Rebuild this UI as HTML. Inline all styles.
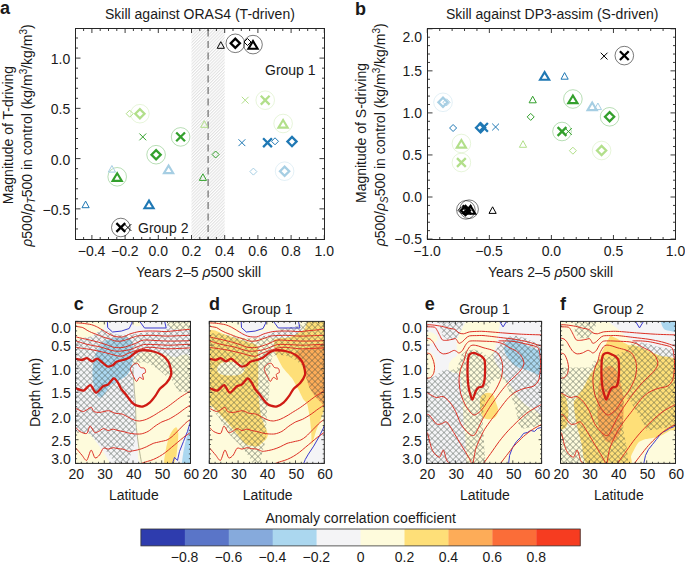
<!DOCTYPE html><html><head><meta charset="utf-8"><style>html,body{margin:0;padding:0;background:#fff;width:685px;height:562px;overflow:hidden}svg{display:block}text{font-family:"Liberation Sans",sans-serif;fill:#1a1a1a}</style></head><body>
<svg width="685" height="562" viewBox="0 0 685 562">
<defs><pattern id="hl" patternUnits="userSpaceOnUse" width="2.2" height="4" patternTransform="rotate(45)"><line x1="0.6" y1="0" x2="0.6" y2="4" stroke="#d6d6d6" stroke-width="0.75"/></pattern></defs>
<rect width="685" height="562" fill="#fff"/>
<rect x="191.5" y="28.5" width="33.2" height="211" fill="url(#hl)"/>
<line x1="208.1" y1="29.5" x2="208.1" y2="239.5" stroke="#6e6e6e" stroke-width="1.2" stroke-dasharray="7 4.5"/>
<path d="M91.9 239.5v-4.5M91.9 28.5v4.5M125.1 239.5v-4.5M125.1 28.5v4.5M158.3 239.5v-4.5M158.3 28.5v4.5M191.5 239.5v-4.5M191.5 28.5v4.5M224.7 239.5v-4.5M224.7 28.5v4.5M257.9 239.5v-4.5M257.9 28.5v4.5M291.1 239.5v-4.5M291.1 28.5v4.5M324.3 239.5v-4.5M324.3 28.5v4.5M83.6 239.5v-2.5M83.6 28.5v2.5M100.2 239.5v-2.5M100.2 28.5v2.5M108.5 239.5v-2.5M108.5 28.5v2.5M116.8 239.5v-2.5M116.8 28.5v2.5M133.4 239.5v-2.5M133.4 28.5v2.5M141.7 239.5v-2.5M141.7 28.5v2.5M150 239.5v-2.5M150 28.5v2.5M166.6 239.5v-2.5M166.6 28.5v2.5M174.9 239.5v-2.5M174.9 28.5v2.5M183.2 239.5v-2.5M183.2 28.5v2.5M199.8 239.5v-2.5M199.8 28.5v2.5M208.1 239.5v-2.5M208.1 28.5v2.5M216.4 239.5v-2.5M216.4 28.5v2.5M233 239.5v-2.5M233 28.5v2.5M241.3 239.5v-2.5M241.3 28.5v2.5M249.6 239.5v-2.5M249.6 28.5v2.5M266.2 239.5v-2.5M266.2 28.5v2.5M274.5 239.5v-2.5M274.5 28.5v2.5M282.8 239.5v-2.5M282.8 28.5v2.5M299.4 239.5v-2.5M299.4 28.5v2.5M307.7 239.5v-2.5M307.7 28.5v2.5M316 239.5v-2.5M316 28.5v2.5M75.5 208.85h5M324.5 208.85h-5M75.5 158.6h5M324.5 158.6h-5M75.5 108.35h5M324.5 108.35h-5M75.5 58.1h5M324.5 58.1h-5M75.5 228.95h2.5M324.5 228.95h-2.5M75.5 218.9h2.5M324.5 218.9h-2.5M75.5 198.8h2.5M324.5 198.8h-2.5M75.5 188.75h2.5M324.5 188.75h-2.5M75.5 178.7h2.5M324.5 178.7h-2.5M75.5 168.65h2.5M324.5 168.65h-2.5M75.5 148.55h2.5M324.5 148.55h-2.5M75.5 138.5h2.5M324.5 138.5h-2.5M75.5 128.45h2.5M324.5 128.45h-2.5M75.5 118.4h2.5M324.5 118.4h-2.5M75.5 98.3h2.5M324.5 98.3h-2.5M75.5 88.25h2.5M324.5 88.25h-2.5M75.5 78.2h2.5M324.5 78.2h-2.5M75.5 68.15h2.5M324.5 68.15h-2.5M75.5 48.05h2.5M324.5 48.05h-2.5M75.5 38h2.5M324.5 38h-2.5" stroke="#262626" stroke-width="0.9" fill="none"/>
<rect x="75.5" y="28.5" width="249" height="211" fill="none" stroke="#262626" stroke-width="1"/>
<text x="91.6" y="256" font-size="14" text-anchor="middle" font-weight="normal" >−0.4</text>
<text x="124.8" y="256" font-size="14" text-anchor="middle" font-weight="normal" >−0.2</text>
<text x="158.3" y="256" font-size="14" text-anchor="middle" font-weight="normal" >0.0</text>
<text x="191.5" y="256" font-size="14" text-anchor="middle" font-weight="normal" >0.2</text>
<text x="224.7" y="256" font-size="14" text-anchor="middle" font-weight="normal" >0.4</text>
<text x="257.9" y="256" font-size="14" text-anchor="middle" font-weight="normal" >0.6</text>
<text x="291.1" y="256" font-size="14" text-anchor="middle" font-weight="normal" >0.8</text>
<text x="324.3" y="256" font-size="14" text-anchor="middle" font-weight="normal" >1.0</text>
<text x="70.2" y="64.1" font-size="14" text-anchor="end" font-weight="normal" >1.0</text>
<text x="70.2" y="114.35" font-size="14" text-anchor="end" font-weight="normal" >0.5</text>
<text x="70.2" y="164.6" font-size="14" text-anchor="end" font-weight="normal" >0.0</text>
<text x="70.2" y="214.85" font-size="14" text-anchor="end" font-weight="normal" >−0.5</text>
<text x="0" y="14.3" font-size="18" text-anchor="start" font-weight="bold" >a</text>
<text x="105" y="18.5" font-size="14" text-anchor="start" font-weight="normal" >Skill against ORAS4 (T-driven)</text>
<text x="136" y="277" font-size="14" text-anchor="start" font-weight="normal" >Years 2–5 <tspan font-style="italic">ρ</tspan>500 skill</text>
<text x="265" y="75" font-size="14" text-anchor="start" font-weight="normal" >Group 1</text>
<text x="138" y="233" font-size="14" text-anchor="start" font-weight="normal" >Group 2</text>
<g transform="translate(13.3 135) rotate(-90)">
<text x="0" y="0" font-size="14" text-anchor="middle" font-weight="normal" >Magnitude of T-driving</text>
</g>
<g transform="translate(32 135.5) rotate(-90)">
<text x="0" y="0" font-size="14" text-anchor="middle" font-weight="normal" ><tspan font-style="italic">ρ</tspan>500/<tspan font-style="italic">ρ</tspan><tspan font-size="10" dy="3" font-style="italic">T</tspan><tspan dy="-3">500 in control (kg/m</tspan><tspan font-size="10" dy="-5">3</tspan><tspan dy="5">/kg/m</tspan><tspan font-size="10" dy="-5">3</tspan><tspan dy="5">)</tspan></text>
</g>
<path d="M217.2 48.3L220.8 41.7L224.4 48.3Z" fill="none" stroke="#000000" stroke-width="1.0" stroke-linejoin="miter" stroke-miterlimit="3"/>
<path d="M244 42L247.5 38.5L251 42L247.5 45.5Z" fill="none" stroke="#000000" stroke-width="1.0"/>
<circle cx="235.3" cy="43.3" r="9.3" fill="none" stroke="#000" stroke-opacity="0.75" stroke-width="0.7"/>
<path d="M230.7 43.3L235.3 38.7L239.9 43.3L235.3 47.9Z" fill="none" stroke="#000000" stroke-width="2.3"/>
<circle cx="253" cy="44.6" r="9.3" fill="none" stroke="#000" stroke-opacity="0.75" stroke-width="0.7"/>
<path d="M248.4 48.7L253 41.1L257.6 48.7Z" fill="none" stroke="#000000" stroke-width="2.1" stroke-linejoin="miter" stroke-miterlimit="3"/>
<path d="M241.8 96.8L248.6 103.6M241.8 103.6L248.6 96.8" fill="none" stroke="#b2df8a" stroke-width="1.0"/>
<circle cx="265.2" cy="100.2" r="9.3" fill="none" stroke="#b2df8a" stroke-opacity="0.45" stroke-width="0.7"/>
<path d="M260.8 95.8L269.6 104.6M260.8 104.6L269.6 95.8" fill="none" stroke="#b2df8a" stroke-width="2.3"/>
<circle cx="283.1" cy="123.5" r="9.3" fill="none" stroke="#b2df8a" stroke-opacity="0.45" stroke-width="0.7"/>
<path d="M278.5 127.6L283.1 120L287.7 127.6Z" fill="none" stroke="#b2df8a" stroke-width="2.1" stroke-linejoin="miter" stroke-miterlimit="3"/>
<path d="M200.7 127.3L204.3 120.7L207.9 127.3Z" fill="none" stroke="#b2df8a" stroke-width="1.0" stroke-linejoin="miter" stroke-miterlimit="3"/>
<path d="M126.2 113.7L129.7 110.2L133.2 113.7L129.7 117.2Z" fill="none" stroke="#b2df8a" stroke-width="1.0"/>
<circle cx="139.9" cy="113.7" r="9.3" fill="none" stroke="#b2df8a" stroke-opacity="0.45" stroke-width="0.7"/>
<path d="M135.3 113.7L139.9 109.1L144.5 113.7L139.9 118.3Z" fill="none" stroke="#b2df8a" stroke-width="2.3"/>
<path d="M139.4 133.5L146.2 140.3M139.4 140.3L146.2 133.5" fill="none" stroke="#33a02c" stroke-width="1.0"/>
<circle cx="180.6" cy="136.9" r="9.3" fill="none" stroke="#33a02c" stroke-opacity="0.5" stroke-width="0.7"/>
<path d="M176.2 132.5L185 141.3M176.2 141.3L185 132.5" fill="none" stroke="#33a02c" stroke-width="2.3"/>
<circle cx="156.1" cy="154.7" r="9.3" fill="none" stroke="#33a02c" stroke-opacity="0.5" stroke-width="0.7"/>
<path d="M151.5 154.7L156.1 150.1L160.7 154.7L156.1 159.3Z" fill="none" stroke="#33a02c" stroke-width="2.3"/>
<circle cx="117.2" cy="176.8" r="9.3" fill="none" stroke="#33a02c" stroke-opacity="0.5" stroke-width="0.7"/>
<path d="M112.6 180.9L117.2 173.3L121.8 180.9Z" fill="none" stroke="#33a02c" stroke-width="2.1" stroke-linejoin="miter" stroke-miterlimit="3"/>
<path d="M212.1 154.5L215.6 151L219.1 154.5L215.6 158Z" fill="none" stroke="#33a02c" stroke-width="1.0"/>
<path d="M199.3 180.4L202.9 173.8L206.5 180.4Z" fill="none" stroke="#33a02c" stroke-width="1.0" stroke-linejoin="miter" stroke-miterlimit="3"/>
<path d="M108.3 172.1L111.9 165.5L115.5 172.1Z" fill="none" stroke="#a6cee3" stroke-width="1.0" stroke-linejoin="miter" stroke-miterlimit="3"/>
<path d="M164 173.1L168.6 165.5L173.2 173.1Z" fill="none" stroke="#a6cee3" stroke-width="2.1" stroke-linejoin="miter" stroke-miterlimit="3"/>
<path d="M249.9 171.6L253.4 168.1L256.9 171.6L253.4 175.1Z" fill="none" stroke="#a6cee3" stroke-width="1.0"/>
<circle cx="284.6" cy="171.2" r="9.3" fill="none" stroke="#a6cee3" stroke-opacity="0.45" stroke-width="0.7"/>
<path d="M280 171.2L284.6 166.6L289.2 171.2L284.6 175.8Z" fill="none" stroke="#a6cee3" stroke-width="2.3"/>
<path d="M82 207.7L85.6 201.1L89.2 207.7Z" fill="none" stroke="#1f78b4" stroke-width="1.0" stroke-linejoin="miter" stroke-miterlimit="3"/>
<path d="M144.4 208.2L149 200.6L153.6 208.2Z" fill="none" stroke="#1f78b4" stroke-width="2.1" stroke-linejoin="miter" stroke-miterlimit="3"/>
<path d="M238.5 139.3L245.3 146.1M238.5 146.1L245.3 139.3" fill="none" stroke="#1f78b4" stroke-width="1.0"/>
<path d="M263.1 138.3L271.9 147.1M263.1 147.1L271.9 138.3" fill="none" stroke="#1f78b4" stroke-width="2.3"/>
<path d="M271.5 141.3L275 137.8L278.5 141.3L275 144.8Z" fill="none" stroke="#1f78b4" stroke-width="1.0"/>
<path d="M287.4 141.6L292 137L296.6 141.6L292 146.2Z" fill="none" stroke="#1f78b4" stroke-width="2.3"/>
<path d="M124.5 224.1L131.3 230.9M124.5 230.9L131.3 224.1" fill="none" stroke="#000000" stroke-width="1.0"/>
<circle cx="120.8" cy="227.5" r="9.3" fill="none" stroke="#000" stroke-opacity="0.75" stroke-width="0.7"/>
<path d="M116.4 223.1L125.2 231.9M116.4 231.9L125.2 223.1" fill="none" stroke="#000000" stroke-width="2.3"/>
<path d="M427.3 239.5v-4.5M427.3 28.5v4.5M489.35 239.5v-4.5M489.35 28.5v4.5M551.4 239.5v-4.5M551.4 28.5v4.5M613.45 239.5v-4.5M613.45 28.5v4.5M675.5 239.5v-4.5M675.5 28.5v4.5M439.71 239.5v-2.5M439.71 28.5v2.5M452.12 239.5v-2.5M452.12 28.5v2.5M464.53 239.5v-2.5M464.53 28.5v2.5M476.94 239.5v-2.5M476.94 28.5v2.5M501.76 239.5v-2.5M501.76 28.5v2.5M514.17 239.5v-2.5M514.17 28.5v2.5M526.58 239.5v-2.5M526.58 28.5v2.5M538.99 239.5v-2.5M538.99 28.5v2.5M563.81 239.5v-2.5M563.81 28.5v2.5M576.22 239.5v-2.5M576.22 28.5v2.5M588.63 239.5v-2.5M588.63 28.5v2.5M601.04 239.5v-2.5M601.04 28.5v2.5M625.86 239.5v-2.5M625.86 28.5v2.5M638.27 239.5v-2.5M638.27 28.5v2.5M650.68 239.5v-2.5M650.68 28.5v2.5M663.09 239.5v-2.5M663.09 28.5v2.5M427.5 239.05h5M675.5 239.05h-5M427.5 197h5M675.5 197h-5M427.5 154.95h5M675.5 154.95h-5M427.5 112.9h5M675.5 112.9h-5M427.5 70.85h5M675.5 70.85h-5M427.5 28.8h5M675.5 28.8h-5M427.5 230.64h2.5M675.5 230.64h-2.5M427.5 222.23h2.5M675.5 222.23h-2.5M427.5 213.82h2.5M675.5 213.82h-2.5M427.5 205.41h2.5M675.5 205.41h-2.5M427.5 188.59h2.5M675.5 188.59h-2.5M427.5 180.18h2.5M675.5 180.18h-2.5M427.5 171.77h2.5M675.5 171.77h-2.5M427.5 163.36h2.5M675.5 163.36h-2.5M427.5 146.54h2.5M675.5 146.54h-2.5M427.5 138.13h2.5M675.5 138.13h-2.5M427.5 129.72h2.5M675.5 129.72h-2.5M427.5 121.31h2.5M675.5 121.31h-2.5M427.5 104.49h2.5M675.5 104.49h-2.5M427.5 96.08h2.5M675.5 96.08h-2.5M427.5 87.67h2.5M675.5 87.67h-2.5M427.5 79.26h2.5M675.5 79.26h-2.5M427.5 62.44h2.5M675.5 62.44h-2.5M427.5 54.03h2.5M675.5 54.03h-2.5M427.5 45.62h2.5M675.5 45.62h-2.5M427.5 37.21h2.5M675.5 37.21h-2.5" stroke="#262626" stroke-width="0.9" fill="none"/>
<rect x="427.5" y="28.5" width="248" height="211" fill="none" stroke="#262626" stroke-width="1"/>
<text x="427" y="256" font-size="14" text-anchor="middle" font-weight="normal" >−1.0</text>
<text x="489.05" y="256" font-size="14" text-anchor="middle" font-weight="normal" >−0.5</text>
<text x="551.4" y="256" font-size="14" text-anchor="middle" font-weight="normal" >0.0</text>
<text x="613.45" y="256" font-size="14" text-anchor="middle" font-weight="normal" >0.5</text>
<text x="675.5" y="256" font-size="14" text-anchor="middle" font-weight="normal" >1.0</text>
<text x="422" y="41.8" font-size="14" text-anchor="end" font-weight="normal" >2.0</text>
<text x="422" y="75.8" font-size="14" text-anchor="end" font-weight="normal" >1.5</text>
<text x="422" y="118" font-size="14" text-anchor="end" font-weight="normal" >1.0</text>
<text x="422" y="160.3" font-size="14" text-anchor="end" font-weight="normal" >0.5</text>
<text x="422" y="202.3" font-size="14" text-anchor="end" font-weight="normal" >0.0</text>
<text x="422" y="244.3" font-size="14" text-anchor="end" font-weight="normal" >−0.5</text>
<text x="355" y="14.5" font-size="18" text-anchor="start" font-weight="bold" >b</text>
<text x="446" y="18.9" font-size="14" text-anchor="start" font-weight="normal" >Skill against DP3-assim (S-driven)</text>
<text x="488" y="277" font-size="14" text-anchor="start" font-weight="normal" >Years 2–5 <tspan font-style="italic">ρ</tspan>500 skill</text>
<g transform="translate(366.3 133) rotate(-90)">
<text x="0" y="0" font-size="14" text-anchor="middle" font-weight="normal" >Magnitude of S-driving</text>
</g>
<g transform="translate(385 134.8) rotate(-90)">
<text x="0" y="0" font-size="14" text-anchor="middle" font-weight="normal" ><tspan font-style="italic">ρ</tspan>500/<tspan font-style="italic">ρ</tspan><tspan font-size="10" dy="3" font-style="italic">S</tspan><tspan dy="-3">500 in control (kg/m</tspan><tspan font-size="10" dy="-5">3</tspan><tspan dy="5">/kg/m</tspan><tspan font-size="10" dy="-5">3</tspan><tspan dy="5">)</tspan></text>
</g>
<path d="M600.7 52.7L607.5 59.5M600.7 59.5L607.5 52.7" fill="none" stroke="#000000" stroke-width="1.0"/>
<circle cx="624.3" cy="55.6" r="9.3" fill="none" stroke="#000" stroke-opacity="0.75" stroke-width="0.7"/>
<path d="M619.9 51.2L628.7 60M619.9 60L628.7 51.2" fill="none" stroke="#000000" stroke-width="2.3"/>
<path d="M540 79.7L544.6 72.1L549.2 79.7Z" fill="none" stroke="#1f78b4" stroke-width="2.1" stroke-linejoin="miter" stroke-miterlimit="3"/>
<path d="M561 79.2L564.6 72.6L568.2 79.2Z" fill="none" stroke="#1f78b4" stroke-width="1.0" stroke-linejoin="miter" stroke-miterlimit="3"/>
<path d="M529.1 102.8L532.7 96.2L536.3 102.8Z" fill="none" stroke="#33a02c" stroke-width="1.0" stroke-linejoin="miter" stroke-miterlimit="3"/>
<circle cx="572.9" cy="99" r="9.3" fill="none" stroke="#33a02c" stroke-opacity="0.5" stroke-width="0.7"/>
<path d="M568.3 103.1L572.9 95.5L577.5 103.1Z" fill="none" stroke="#33a02c" stroke-width="2.1" stroke-linejoin="miter" stroke-miterlimit="3"/>
<path d="M594.3 109.6L597.9 103L601.5 109.6Z" fill="none" stroke="#a6cee3" stroke-width="1.0" stroke-linejoin="miter" stroke-miterlimit="3"/>
<path d="M587.6 110.1L592.2 102.5L596.8 110.1Z" fill="none" stroke="#a6cee3" stroke-width="2.1" stroke-linejoin="miter" stroke-miterlimit="3"/>
<path d="M527.2 116.9L530.7 113.4L534.2 116.9L530.7 120.4Z" fill="none" stroke="#33a02c" stroke-width="1.0"/>
<circle cx="609.6" cy="116.8" r="9.3" fill="none" stroke="#33a02c" stroke-opacity="0.5" stroke-width="0.7"/>
<path d="M605 116.8L609.6 112.2L614.2 116.8L609.6 121.4Z" fill="none" stroke="#33a02c" stroke-width="2.3"/>
<path d="M565 128.1L571.8 134.9M565 134.9L571.8 128.1" fill="none" stroke="#33a02c" stroke-width="1.0"/>
<circle cx="562" cy="131.5" r="9.3" fill="none" stroke="#33a02c" stroke-opacity="0.5" stroke-width="0.7"/>
<path d="M557.6 127.1L566.4 135.9M557.6 135.9L566.4 127.1" fill="none" stroke="#33a02c" stroke-width="2.3"/>
<path d="M519.4 147.3L523 140.7L526.6 147.3Z" fill="none" stroke="#b2df8a" stroke-width="1.0" stroke-linejoin="miter" stroke-miterlimit="3"/>
<path d="M569.4 150.7L572.9 147.2L576.4 150.7L572.9 154.2Z" fill="none" stroke="#b2df8a" stroke-width="1.0"/>
<circle cx="601.6" cy="150.5" r="9.3" fill="none" stroke="#b2df8a" stroke-opacity="0.45" stroke-width="0.7"/>
<path d="M597 150.5L601.6 145.9L606.2 150.5L601.6 155.1Z" fill="none" stroke="#b2df8a" stroke-width="2.3"/>
<path d="M443 102.3L446.5 98.8L450 102.3L446.5 105.8Z" fill="none" stroke="#a6cee3" stroke-width="1.0"/>
<circle cx="443" cy="102.3" r="9.3" fill="none" stroke="#a6cee3" stroke-opacity="0.45" stroke-width="0.7"/>
<path d="M438.4 102.3L443 97.7L447.6 102.3L443 106.9Z" fill="none" stroke="#a6cee3" stroke-width="2.3"/>
<path d="M449.6 128L453.1 124.5L456.6 128L453.1 131.5Z" fill="none" stroke="#1f78b4" stroke-width="1.0"/>
<path d="M492.2 123.6L499 130.4M492.2 130.4L499 123.6" fill="none" stroke="#1f78b4" stroke-width="1.0"/>
<path d="M476 127.8L480.6 123.2L485.2 127.8L480.6 132.4Z" fill="none" stroke="#1f78b4" stroke-width="2.3"/>
<path d="M479.1 123L487.9 131.8M479.1 131.8L487.9 123" fill="none" stroke="#1f78b4" stroke-width="2.3"/>
<circle cx="461.4" cy="143.5" r="9.3" fill="none" stroke="#b2df8a" stroke-opacity="0.45" stroke-width="0.7"/>
<path d="M456.8 147.6L461.4 140L466 147.6Z" fill="none" stroke="#b2df8a" stroke-width="2.1" stroke-linejoin="miter" stroke-miterlimit="3"/>
<circle cx="461.4" cy="162.5" r="9.3" fill="none" stroke="#b2df8a" stroke-opacity="0.45" stroke-width="0.7"/>
<path d="M457 158.1L465.8 166.9M457 166.9L465.8 158.1" fill="none" stroke="#b2df8a" stroke-width="2.3"/>
<path d="M489 213.4L492.6 206.8L496.2 213.4Z" fill="none" stroke="#000000" stroke-width="1.0" stroke-linejoin="miter" stroke-miterlimit="3"/>
<circle cx="465.9" cy="209.9" r="9.3" fill="none" stroke="#000" stroke-opacity="0.75" stroke-width="0.7"/>
<circle cx="469.1" cy="209.2" r="9.3" fill="none" stroke="#000" stroke-opacity="0.75" stroke-width="0.7"/>
<path d="M458 210.3L461.5 206.8L465 210.3L461.5 213.8Z" fill="none" stroke="#000000" stroke-width="1.0"/>
<path d="M460.9 210.5L465.5 205.9L470.1 210.5L465.5 215.1Z" fill="none" stroke="#000000" stroke-width="2.3"/>
<path d="M462.6 205.4L471.4 214.2M462.6 214.2L471.4 205.4" fill="none" stroke="#000000" stroke-width="2.3"/>
<path d="M466 213.7L470.6 206.1L475.2 213.7Z" fill="none" stroke="#000000" stroke-width="2.1" stroke-linejoin="miter" stroke-miterlimit="3"/>
<g transform="translate(75.5 321.4)">
<clipPath id="cpc"><rect width="115" height="142"/></clipPath>
<g clip-path="url(#cpc)">
<rect width="115" height="142" fill="#f4f4f6"/>
<path d="M-1 -1C1.2 -2.4 29.7 -1.2 31.8 -1C33.9 -0.8 31.2 1.3 30.9 1.9C30.6 2.5 28 7.4 27.4 8C26.8 8.6 22.9 10.1 22.1 10.6C21.3 11.1 17 14.6 16 15C15 15.4 8.4 16.4 7.3 16.7C6.2 17 -0.4 20.6 -1 19.4C-1.6 18.2 -3.2 0.4 -1 -1Z" fill="#fefbdc"/>
<path d="M56.7 -1L63.5 -1L66 4L61 5L57 3Z" fill="#fefbdc"/>
<path d="M90 -1C91.3 -1.5 114.3 -1.6 116 -1C117.7 -0.4 116.8 7.4 116 8C115.2 8.6 105.3 8.1 104 8C102.7 7.9 96.9 7.6 96 7C95.1 6.4 88.7 -0.5 90 -1Z" fill="#fefbdc"/>
<path d="M57 45C57.2 42.2 59.1 36.4 60 35C60.9 33.6 64.2 31.5 66 31C67.8 30.5 75.6 29.8 78 30C80.4 30.2 87.8 32.4 90 33C92.2 33.6 97.5 35.5 100 36C102.5 36.5 113.4 27.3 115 38C116.6 48.7 120.9 132.5 116 143C111.1 153.5 71.3 145.3 66 143C60.6 140.7 63 124.1 62.5 120C62 115.9 60.8 105.6 60.5 102C60.2 98.4 60.2 87.9 60 84C59.8 80.1 58.7 66.9 58.4 63C58.1 59.1 56.8 47.8 57 45Z" fill="#fefbdc"/>
<path d="M55 47C55.3 45.7 56.8 43.8 58 43C59.2 42.2 60.8 41.5 62 42C63.2 42.5 63.8 45.2 65 46C66.2 46.8 68.2 46.2 69 47C69.8 47.8 70.3 50 70 51C69.7 52 67.3 51.8 67 53C66.7 54.2 68.5 57.5 68 58C67.5 58.5 65.2 55.7 64 56C62.8 56.3 62 60.2 61 60C60 59.8 58.8 56.5 58 55C57.2 53.5 56.5 52.3 56 51C55.5 49.7 54.7 48.3 55 47Z" fill="#f4f4f6"/>
<path d="M-1 111C-0.1 108.9 11.9 111.7 13.2 112.1C14.5 112.5 17.4 116.2 18.1 117C18.8 117.8 23.2 123.7 24 124.8C24.8 125.9 29.2 132.4 29.8 133.6C30.4 134.8 35.8 142.4 33.7 143C31.6 143.6 1.3 145.1 -1 143C-3.3 140.9 -1.9 113.1 -1 111Z" fill="#fefbdc"/>
<path d="M21 30C22.5 27.1 25.2 22.8 28 20.5C30.8 18.2 34.8 17.3 37.9 16.5C41 15.7 43.9 15.7 46.7 15.8C49.5 15.9 52.7 15.6 54.5 17C56.3 18.4 56.9 20.8 57.4 24C57.9 27.2 57.6 32.5 57.4 36C57.2 39.5 56.9 42.2 56 45C55.1 47.8 53.7 50.9 52 53C50.3 55.1 48 56.2 46 57.5C44 58.8 41.9 59.9 40 61C38.1 62.1 36.6 62.3 34.6 64.4C32.6 66.5 30 71.6 28.2 73.5C26.4 75.4 25.4 76.6 24 76C22.6 75.4 21.1 72.7 20 70C18.9 67.3 18 63.7 17.5 60C17 56.3 16.8 51.7 17 48C17.2 44.3 18.3 41 19 38C19.7 35 19.5 32.9 21 30Z" fill="#abd7ef"/>
<path d="M89 143C87.8 141.3 89.5 133.5 90 130C90.5 126.5 92.1 119.8 93 117C93.9 114.2 95.9 110.5 97 109C98.1 107.5 100.2 105.6 101 106C101.8 106.4 102.7 109.5 102.8 112C102.9 114.5 102.5 120.9 102 125C101.5 129.1 100.7 140.6 99 143C97.3 145.4 90.2 144.7 89 143Z" fill="#fedf78"/>
<path d="M98 143L104 128L110 112L116 98L116 143Z" fill="#f4f4f6"/>
<path d="M106.5 143C106 142.1 107.7 131.8 108 130C108.3 128.2 110.5 117.8 111 116C111.5 114.2 115.7 101.2 116 103C116.3 104.8 116.6 140.3 116 143C115.4 145.7 107 143.9 106.5 143Z" fill="#abd7ef"/>
<clipPath id="hc1"><path d="M0 18.5L7.3 16.7L16 15L22.1 10.6L27.4 8L31 9L36 12L45 13.5L55 13L70 11L85 10L91 8L92.5 0L115 0L115 71L103 70L96 58L90 54L83 48L75 43L68 40L62 42L58 48L57 55L58 70L59 85L60 100L60 115L58 125L55 134L53 142L40 142L28 126L18.1 117L13.2 112.1L0 111Z"/></clipPath><path d="M-2 -121.4L118 -1.4M-2 -115.4L118 4.6M-2 -109.4L118 10.6M-2 -103.4L118 16.6M-2 -97.4L118 22.6M-2 -91.4L118 28.6M-2 -85.4L118 34.6M-2 -79.4L118 40.6M-2 -73.4L118 46.6M-2 -67.4L118 52.6M-2 -61.4L118 58.6M-2 -55.4L118 64.6M-2 -49.4L118 70.6M-2 -43.4L118 76.6M-2 -37.4L118 82.6M-2 -31.4L118 88.6M-2 -25.4L118 94.6M-2 -19.4L118 100.6M-2 -13.4L118 106.6M-2 -7.4L118 112.6M-2 -1.4L118 118.6M-2 4.6L118 124.6M-2 10.6L118 130.6M-2 16.6L118 136.6M-2 22.6L118 142.6M-2 28.6L118 148.6M-2 34.6L118 154.6M-2 40.6L118 160.6M-2 46.6L118 166.6M-2 52.6L118 172.6M-2 58.6L118 178.6M-2 64.6L118 184.6M-2 70.6L118 190.6M-2 76.6L118 196.6M-2 82.6L118 202.6M-2 88.6L118 208.6M-2 94.6L118 214.6M-2 100.6L118 220.6M-2 106.6L118 226.6M-2 112.6L118 232.6M-2 118.6L118 238.6M-2 124.6L118 244.6M-2 130.6L118 250.6M-2 136.6L118 256.6M-2 142.6L118 262.6M-2 7.6L118 -112.4M-2 13.6L118 -106.4M-2 19.6L118 -100.4M-2 25.6L118 -94.4M-2 31.6L118 -88.4M-2 37.6L118 -82.4M-2 43.6L118 -76.4M-2 49.6L118 -70.4M-2 55.6L118 -64.4M-2 61.6L118 -58.4M-2 67.6L118 -52.4M-2 73.6L118 -46.4M-2 79.6L118 -40.4M-2 85.6L118 -34.4M-2 91.6L118 -28.4M-2 97.6L118 -22.4M-2 103.6L118 -16.4M-2 109.6L118 -10.4M-2 115.6L118 -4.4M-2 121.6L118 1.6M-2 127.6L118 7.6M-2 133.6L118 13.6M-2 139.6L118 19.6M-2 145.6L118 25.6M-2 151.6L118 31.6M-2 157.6L118 37.6M-2 163.6L118 43.6M-2 169.6L118 49.6M-2 175.6L118 55.6M-2 181.6L118 61.6M-2 187.6L118 67.6M-2 193.6L118 73.6M-2 199.6L118 79.6M-2 205.6L118 85.6M-2 211.6L118 91.6M-2 217.6L118 97.6M-2 223.6L118 103.6M-2 229.6L118 109.6M-2 235.6L118 115.6M-2 241.6L118 121.6M-2 247.6L118 127.6M-2 253.6L118 133.6M-2 259.6L118 139.6M-2 265.6L118 145.6M-2 271.6L118 151.6" stroke="#36423a" stroke-width="0.5" fill="none" clip-path="url(#hc1)"/>
<path d="M57.4 47.7C57.6 50.3 58 57.2 58.4 63.2C58.8 69.2 59.6 77.3 60 83.8C60.4 90.2 60.1 95.9 60.5 101.9C60.9 107.9 61.6 113.3 62.5 120C63.4 126.7 65.5 138.3 66.1 142" fill="none" stroke="#8a8a6a" stroke-width="0.6" stroke-linejoin="round" />
<path d="M31.8 -1L32.2 6.2L37 10.6L45.8 9.7L53.7 7.1L56.3 1.9L56.7 -1" fill="none" stroke="#3b3bcc" stroke-width="1.0" stroke-linejoin="round" />
<path d="M63.5 -1L69 6.6L90.7 6.6L88.9 -1" fill="none" stroke="#3b3bcc" stroke-width="1.0" stroke-linejoin="round" />
<path d="M97 142L99 136L102 139L104 130L108 120L112 110L115 100" fill="none" stroke="#3b3bcc" stroke-width="1.0" stroke-linejoin="round" />
<path d="M0 1.4C1 1.5 5.2 1.7 7.3 1.9C9.4 2.2 14 2.8 16 3.3C18 3.8 20.6 5 22.1 5.8C23.6 6.5 25.9 8 27.4 8.9C28.9 9.8 31.9 11.7 33.5 12.6C35.1 13.4 37.8 14.8 39.7 15.1C41.6 15.5 45.5 15.8 47.5 15.5C49.5 15.1 52.4 13.2 54.5 12.5C56.6 11.8 61.1 10.6 63.5 10.2C65.9 9.8 70.2 9.7 72.6 9.6C75 9.6 79.2 9.7 81.6 9.7C84 9.8 88.3 10.3 90.7 10.2C93.1 10.1 97.3 9.5 99.7 9.3C102.1 9.1 106.8 8.6 108.8 8.4C110.8 8.2 114.2 8 115 7.9" fill="none" stroke="#dc2f24" stroke-width="1.0" stroke-linejoin="round" />
<path d="M0 4.9C1 5.1 5.8 5.7 7.3 6.2C8.8 6.7 10.4 8.3 11.6 8.9C12.8 9.6 14.7 10.5 16 11.1C17.3 11.7 19.8 12.5 21.3 13.1C22.8 13.7 25.8 14.9 27.4 15.5C29 16.1 31.8 16.8 33.5 17.4C35.2 17.9 38.6 19.4 40.5 19.7C42.4 20 45.1 19.9 47.5 19.4C49.9 18.8 56.4 16.3 58.5 15.6C60.6 14.9 61.1 14.6 63.5 14.4C65.9 14.2 72.9 13.9 76.5 13.9C80.1 14 87 14.7 90.7 14.7C94.4 14.8 100.8 14.4 104 14.3C107.2 14.2 113.5 13.9 115 13.8" fill="none" stroke="#dc2f24" stroke-width="1.0" stroke-linejoin="round" />
<path d="M0 15.4C0.7 15.6 4 16.4 5.5 16.7C7 17.1 10 17.7 11.6 18C13.2 18.4 16 19.1 17.8 19.5C19.6 20 22.9 20.7 24.8 21.3C26.7 21.8 29.9 23 31.8 23.6C33.7 24.2 36.7 25.7 38.8 26C40.9 26.3 44.9 26.4 47.5 26C50.1 25.5 55.8 23.6 58.5 22.6C61.2 21.6 64.8 19.2 67.9 18.7C71 18.3 78 19.1 81.6 19.2C85.2 19.4 90.5 19.7 95 19.7C99.5 19.7 112.3 19.4 115 19.3" fill="none" stroke="#dc2f24" stroke-width="1.0" stroke-linejoin="round" />
<path d="M0 19.4C1.5 19.9 8.3 22.1 11.6 22.9C14.9 23.8 21.2 24.7 25 25.6C28.8 26.5 36.1 29.5 40 29.8C43.9 30.2 50.8 29.1 54.5 28.2C58.2 27.3 64.4 23.9 68 23.2C71.6 22.6 78 23.3 81.6 23.3C85.2 23.4 90.5 23.9 95 23.8C99.5 23.7 112.3 22.9 115 22.8" fill="none" stroke="#dc2f24" stroke-width="1.0" stroke-linejoin="round" />
<path d="M0 26C2 26.3 11 27.4 15 28.1C19 28.8 26 30.4 30 31.3C34 32.2 41.7 34.9 45 34.9C48.3 34.9 50.8 32.4 54.5 31.2C58.2 30 67.8 26.4 72.6 25.9C77.4 25.4 85 27.3 90.7 27.4C96.4 27.5 111.8 26.6 115 26.5" fill="none" stroke="#dc2f24" stroke-width="1.0" stroke-linejoin="round" />
<path d="M0 86.8C0.9 87.2 5.6 89.9 7.1 90.1C8.6 90.3 10.3 89 11.4 88.4C12.5 87.8 14.8 85.6 15.7 85.8C16.6 86 17.2 89.4 18.3 90.1C19.4 90.8 22.3 91.1 24.3 91C26.3 90.9 30.9 89.2 33 89.3C35.1 89.4 38 91.4 39.8 91.9C41.6 92.4 44.9 92.1 46.7 92.7C48.5 93.3 52 95.4 53.6 96.2C55.2 97 57.4 98.2 58.8 98.7C60.2 99.2 62.4 99.7 64 99.6C65.6 99.5 69.1 98.6 70.9 97.9C72.7 97.2 75.9 95.4 77.7 94.4C79.5 93.4 82.8 91.2 84.6 90.1C86.4 89 89.7 87.1 91.5 85.8C93.3 84.5 96.6 82.1 98.4 80.7C100.2 79.3 103.5 76.8 105.3 75.5C107.1 74.2 110.9 72.1 112.2 71.2C113.5 70.3 114.6 69.3 115 69" fill="none" stroke="#dc2f24" stroke-width="1.0" stroke-linejoin="round" />
<path d="M0.5 106.2C1 106.7 3 109.3 4.4 110.1C5.8 110.9 9.8 112.8 11.2 112.1C12.6 111.4 13.5 104.8 14.6 104.7C15.7 104.6 18 110.4 19.1 111.1C20.2 111.8 21.8 110.6 23 110.1C24.2 109.6 26.6 107.3 27.9 107.2C29.2 107.1 31.4 109 32.7 109.1C34 109.2 36.3 107.7 37.6 107.7C38.9 107.7 41.2 108.8 42.5 109.1C43.8 109.4 46 109.8 47.4 110.1C48.8 110.4 51.8 111.3 53.3 111.6C54.8 111.9 57.1 112.4 58.8 112.5C60.5 112.6 63.9 112.8 65.7 112.5C67.5 112.2 70.8 111 72.6 110C74.4 109 77.7 106.1 79.5 104.8C81.3 103.5 84.6 101.4 86.4 100.5C88.2 99.6 91.1 98.9 93.2 97.9C95.3 96.9 99.8 94.1 101.9 92.7C104 91.3 107.1 88.8 108.8 87.6C110.5 86.4 114.2 84 115 83.5" fill="none" stroke="#dc2f24" stroke-width="1.0" stroke-linejoin="round" />
<path d="M0.5 126.8C1.3 127.7 4.9 132 6.3 133.6C7.7 135.2 10 139.7 11.2 139C12.4 138.3 14.5 129 15.6 128.7C16.7 128.4 18.4 135.8 19.5 136.5C20.6 137.2 22.9 134.9 24 133.6C25.1 132.3 26.7 127.6 27.9 126.8C29.1 126 31.4 127.8 32.7 127.7C34 127.6 36.3 126.4 37.6 126.3C38.9 126.2 41.2 127.1 42.5 127.3C43.8 127.5 46.1 127.4 47.4 127.7C48.7 128 51.2 129.4 52.3 129.7C53.4 130 53.7 130 55.3 129.8C56.9 129.6 61.9 128.6 64 128C66.1 127.4 69.1 126.2 70.9 125.4C72.7 124.6 75.9 122.7 77.7 122C79.5 121.3 82.8 120.8 84.6 120.3C86.4 119.8 89.9 119.3 91.5 118.6C93.1 117.9 95.1 116.5 96.7 115.1C98.3 113.7 101.8 110 103.6 108.2C105.4 106.4 109 102.7 110.5 101.3C112 99.9 114.4 98.4 115 98" fill="none" stroke="#dc2f24" stroke-width="1.0" stroke-linejoin="round" />
<path d="M66 142C66.8 141.7 70.4 140.5 72 140C73.6 139.5 76.4 138.7 78 138C79.6 137.3 82.4 135.9 84 135C85.6 134.1 88.4 132.2 90 131C91.6 129.8 94.4 127.3 96 126C97.6 124.7 100.4 122.3 102 121C103.6 119.7 106.3 117.3 108 116C109.7 114.7 114.1 111.7 115 111" fill="none" stroke="#dc2f24" stroke-width="1.0" stroke-linejoin="round" />
<path d="M55 47C55.3 45.7 56.8 43.8 58 43C59.2 42.2 60.8 41.5 62 42C63.2 42.5 63.8 45.2 65 46C66.2 46.8 68.2 46.2 69 47C69.8 47.8 70.3 50 70 51C69.7 52 67.3 51.8 67 53C66.7 54.2 68.5 57.5 68 58C67.5 58.5 65.2 55.7 64 56C62.8 56.3 62 60.2 61 60C60 59.8 58.8 56.5 58 55C57.2 53.5 56.5 52.3 56 51C55.5 49.7 54.7 48.3 55 47Z" fill="none" stroke="#dc2f24" stroke-width="1.0" stroke-linejoin="round" />
<path d="M0 37.3C0.8 37.5 4.7 38.7 6.2 38.6C7.7 38.5 10 36.6 11.4 36.8C12.8 37 15.2 39.8 16.6 39.9C18 40 20.3 37.1 21.7 37.3C23.1 37.5 25.5 40.2 26.9 41.2C28.3 42.2 30.7 44.8 32.1 45.1C33.5 45.4 36 44.4 37.2 43.8C38.4 43.2 39.7 41.1 41.1 40.4C42.5 39.7 45.9 39.2 47.6 38.6C49.3 38 52.3 37 54 36C55.7 35 59 31.8 60.5 30.9C62 30 63.5 29.2 65.6 29C67.7 28.8 73.2 29 76 29.6C78.8 30.2 84.1 32.1 86.3 33.5C88.5 34.9 91.5 38 92.7 39.9C93.9 41.8 94.9 45.9 95.3 47.7C95.7 49.5 96.2 51.8 95.6 53.7C95 55.6 92.4 59.9 90.9 61.7C89.4 63.5 85.6 65.9 84.2 67.5C82.8 69.1 81.5 72.2 80.2 74C78.9 75.8 76.2 79.5 74.5 81C72.8 82.5 69.5 84.6 67.8 85C66.1 85.4 63 84.8 61.5 84.3C60 83.8 58.1 82.7 56.6 81.2C55.1 79.7 52 75.1 50.6 73.3C49.2 71.5 46.9 69.4 45.8 67.8C44.7 66.2 43.3 62.5 42.3 61C41.3 59.5 39.5 56.6 38.2 56.9C36.9 57.2 34.2 61.9 32.7 63C31.2 64.1 28.9 64 27.3 65.1C25.7 66.2 22.1 71.5 20.4 71.3C18.7 71.1 16.5 64 14.9 63.7C13.3 63.4 9.9 68.7 8.1 69.2C6.3 69.7 2.3 67.4 1.2 67.1C0.1 66.8 0.2 67 0 67" fill="none" stroke="#cf1b14" stroke-width="2.3" stroke-linejoin="round" />
</g>
<path d="M0 0v3.0M0 142v-3.0M5.8 0v1.6M5.8 142v-1.6M11.5 0v1.6M11.5 142v-1.6M17.2 0v1.6M17.2 142v-1.6M23 0v1.6M23 142v-1.6M28.8 0v3.0M28.8 142v-3.0M34.5 0v1.6M34.5 142v-1.6M40.2 0v1.6M40.2 142v-1.6M46 0v1.6M46 142v-1.6M51.8 0v1.6M51.8 142v-1.6M57.5 0v3.0M57.5 142v-3.0M63.2 0v1.6M63.2 142v-1.6M69 0v1.6M69 142v-1.6M74.8 0v1.6M74.8 142v-1.6M80.5 0v1.6M80.5 142v-1.6M86.2 0v3.0M86.2 142v-3.0M92 0v1.6M92 142v-1.6M97.8 0v1.6M97.8 142v-1.6M103.5 0v1.6M103.5 142v-1.6M109.2 0v1.6M109.2 142v-1.6M115 0v3.0M115 142v-3.0M0 0h3.0M115 0h-3.0M0 4.7h1.6M115 4.7h-1.6M0 9.5h1.6M115 9.5h-1.6M0 14.2h1.6M115 14.2h-1.6M0 18.9h1.6M115 18.9h-1.6M0 23.7h3.0M115 23.7h-3.0M0 28.4h1.6M115 28.4h-1.6M0 33.1h1.6M115 33.1h-1.6M0 37.9h1.6M115 37.9h-1.6M0 42.6h1.6M115 42.6h-1.6M0 47.3h3.0M115 47.3h-3.0M0 52.1h1.6M115 52.1h-1.6M0 56.8h1.6M115 56.8h-1.6M0 61.5h1.6M115 61.5h-1.6M0 66.3h1.6M115 66.3h-1.6M0 71h3.0M115 71h-3.0M0 75.7h1.6M115 75.7h-1.6M0 80.5h1.6M115 80.5h-1.6M0 85.2h1.6M115 85.2h-1.6M0 89.9h1.6M115 89.9h-1.6M0 94.7h3.0M115 94.7h-3.0M0 99.4h1.6M115 99.4h-1.6M0 104.1h1.6M115 104.1h-1.6M0 108.9h1.6M115 108.9h-1.6M0 113.6h1.6M115 113.6h-1.6M0 118.3h3.0M115 118.3h-3.0M0 123.1h1.6M115 123.1h-1.6M0 127.8h1.6M115 127.8h-1.6M0 132.5h1.6M115 132.5h-1.6M0 137.3h1.6M115 137.3h-1.6M0 142h3.0M115 142h-3.0" stroke="#262626" stroke-width="0.8" fill="none"/>
<rect width="115" height="142" fill="none" stroke="#262626" stroke-width="1"/>
</g>
<g transform="translate(209.3 321.4)">
<clipPath id="cpd"><rect width="115" height="142"/></clipPath>
<g clip-path="url(#cpd)">
<rect width="115" height="142" fill="#fefbdc"/>
<path d="M31.8 -1L32.2 6.2L37 10.6L45.8 9.7L53.7 7.1L56.3 1.9L56.7 -1Z" fill="#f4f4f6"/>
<path d="M63.5 -1L69 6.6L90.7 6.6L88.9 -1Z" fill="#f4f4f6"/>
<path d="M30 8C31.3 7.6 42 10.9 45 11C48 11.1 57 9.3 60 9C63 8.7 71.8 8.2 75 8C78.2 7.8 90.3 6.4 92 7C93.7 7.6 93.7 13.1 92 14C90.3 14.9 78.2 15.8 75 16C71.8 16.2 63 15.9 60 16C57 16.1 47.8 17.1 45 17C42.2 16.9 33.5 15.9 32 15C30.5 14.1 28.7 8.4 30 8Z" fill="#f4f4f6"/>
<path d="M-1 11.5C0.6 4.5 11.9 12.3 15 13C18.1 13.7 27.5 17.2 30 18C32.5 18.8 38.2 20.4 40 21C41.8 21.6 47.1 22.5 48 24.4C48.9 26.3 48.9 36.4 49 40C49.1 43.6 49 56.4 49 60C49 63.6 49 72.5 49.3 76C49.6 79.5 51.1 91.4 52 95C52.9 98.6 57.9 110 58.4 112.2C58.9 114.4 57.8 116.1 57 117.3C56.2 118.5 51 123.2 50 124C49 124.8 48.1 125.2 46.7 125.1C45.3 124.9 38.3 123.7 36.4 122.5C34.5 121.3 29.8 115.2 28 113C26.2 110.8 20 103.3 18 101C16 98.7 9.6 91.7 8 90C6.4 88.3 2.5 84.5 1.6 83.8C0.7 83.1 -0.7 90.2 -1 83C-1.3 75.8 -2.6 18.5 -1 11.5Z" fill="#fedf78"/>
<path d="M8 46C8.7 44.3 10.7 41.9 13 41C15.3 40.1 19 40.2 22 40.4C25 40.6 28.8 40.9 31 42C33.2 43.1 35.2 45.2 35.4 47C35.6 48.8 33.9 51.3 32 52.5C30.1 53.7 27 53.9 24 54.1C21 54.3 16.5 54 14 53.5C11.5 53 10 52.2 9 51C8 49.8 7.3 47.7 8 46Z" fill="#fefbdc"/>
<path d="M65 18C66.1 16.6 77.5 16.8 80 16C82.5 15.2 93.4 9.4 95 8C96.6 6.6 97.2 -0.2 99 -1C100.8 -1.8 114.6 -7.8 116 -1C117.4 5.8 116.3 72 116 80C115.7 88 113.1 92.9 112.4 95.3C111.7 97.7 107.9 106.5 107.1 108.7C106.3 110.9 103.5 120.8 103.1 122C102.7 123.2 102.5 124.6 102.4 123.5C102.3 122.4 102 111 101.8 108.7C101.6 106.4 100.7 97.5 100.4 95.3C100.1 93.1 98.3 83.5 97.8 82C97.2 80.5 94.5 78.7 93.8 77.5C93.1 76.3 89.9 69.6 89 67.9C88.1 66.2 83.9 58.6 82.6 56.7C81.3 54.8 74.3 47.5 73 45.5C71.7 43.5 67.2 34.9 66.5 32.6C65.8 30.3 63.9 19.4 65 18Z" fill="#fedf78"/>
<path d="M84.2 34.2C83.9 33 88.7 29.7 90 29C91.3 28.3 97.8 26.4 100 26C102.2 25.6 114.7 19.3 116 24C117.3 28.7 116.2 77.1 116 82C115.8 86.9 113.8 82.8 113 82.3C112.2 81.8 107.7 77.2 106.6 75.9C105.5 74.6 101 67.9 100.2 66.3C99.4 64.7 97.5 58.6 97 56.7C96.5 54.8 94.9 45.8 93.8 43.9C92.7 42 84.5 35.4 84.2 34.2Z" fill="#fdac58"/>
<path d="M94.4 143C93.3 142.3 98.4 133.9 99.1 132.7C99.8 131.5 103.7 125.9 104.4 124.7C105.1 123.5 109.2 116.5 109.8 115.3C110.4 114.1 113.4 108.1 113.8 107.3C114.2 106.5 115.9 100.9 116 103.3C116.1 105.7 117.4 140.4 116 143C114.6 145.6 95.5 143.7 94.4 143Z" fill="#f4f4f6"/>
<clipPath id="hc2"><path d="M0 12L10 12L20 14L30 16L40 17L50 16L60 13L70 8L85 5L95 2L98 0L115 0L115 84L113 82.3L106.6 75.9L100.2 66.3L97 56.7L93.8 45L88 40L82 36L75 34L68 33L63 35L61 45L60 60L60 72L58 85L57 100L57 112L55 124L52 135L51 142L43.7 142L39.7 135.3L31.7 124.6L19.7 112.6L9 95L1 86L0 86Z"/></clipPath><path d="M-2 -119.6L118 0.4M-2 -113.6L118 6.4M-2 -107.6L118 12.4M-2 -101.6L118 18.4M-2 -95.6L118 24.4M-2 -89.6L118 30.4M-2 -83.6L118 36.4M-2 -77.6L118 42.4M-2 -71.6L118 48.4M-2 -65.6L118 54.4M-2 -59.6L118 60.4M-2 -53.6L118 66.4M-2 -47.6L118 72.4M-2 -41.6L118 78.4M-2 -35.6L118 84.4M-2 -29.6L118 90.4M-2 -23.6L118 96.4M-2 -17.6L118 102.4M-2 -11.6L118 108.4M-2 -5.6L118 114.4M-2 0.4L118 120.4M-2 6.4L118 126.4M-2 12.4L118 132.4M-2 18.4L118 138.4M-2 24.4L118 144.4M-2 30.4L118 150.4M-2 36.4L118 156.4M-2 42.4L118 162.4M-2 48.4L118 168.4M-2 54.4L118 174.4M-2 60.4L118 180.4M-2 66.4L118 186.4M-2 72.4L118 192.4M-2 78.4L118 198.4M-2 84.4L118 204.4M-2 90.4L118 210.4M-2 96.4L118 216.4M-2 102.4L118 222.4M-2 108.4L118 228.4M-2 114.4L118 234.4M-2 120.4L118 240.4M-2 126.4L118 246.4M-2 132.4L118 252.4M-2 138.4L118 258.4M-2 144.4L118 264.4M-2 5.8L118 -114.2M-2 11.8L118 -108.2M-2 17.8L118 -102.2M-2 23.8L118 -96.2M-2 29.8L118 -90.2M-2 35.8L118 -84.2M-2 41.8L118 -78.2M-2 47.8L118 -72.2M-2 53.8L118 -66.2M-2 59.8L118 -60.2M-2 65.8L118 -54.2M-2 71.8L118 -48.2M-2 77.8L118 -42.2M-2 83.8L118 -36.2M-2 89.8L118 -30.2M-2 95.8L118 -24.2M-2 101.8L118 -18.2M-2 107.8L118 -12.2M-2 113.8L118 -6.2M-2 119.8L118 -0.2M-2 125.8L118 5.8M-2 131.8L118 11.8M-2 137.8L118 17.8M-2 143.8L118 23.8M-2 149.8L118 29.8M-2 155.8L118 35.8M-2 161.8L118 41.8M-2 167.8L118 47.8M-2 173.8L118 53.8M-2 179.8L118 59.8M-2 185.8L118 65.8M-2 191.8L118 71.8M-2 197.8L118 77.8M-2 203.8L118 83.8M-2 209.8L118 89.8M-2 215.8L118 95.8M-2 221.8L118 101.8M-2 227.8L118 107.8M-2 233.8L118 113.8M-2 239.8L118 119.8M-2 245.8L118 125.8M-2 251.8L118 131.8M-2 257.8L118 137.8M-2 263.8L118 143.8M-2 269.8L118 149.8" stroke="#36423a" stroke-width="0.5" fill="none" clip-path="url(#hc2)"/>
<path d="M31.8 -1L32.2 6.2L37 10.6L45.8 9.7L53.7 7.1L56.3 1.9L56.7 -1" fill="none" stroke="#3b3bcc" stroke-width="1.0" stroke-linejoin="round" />
<path d="M63.5 -1L69 6.6L90.7 6.6L88.9 -1" fill="none" stroke="#3b3bcc" stroke-width="1.0" stroke-linejoin="round" />
<path d="M94.4 142L96 138L99.1 132.7L104.4 124.7L109.8 115.3L113.8 107.3L115 104" fill="none" stroke="#3b3bcc" stroke-width="1.0" stroke-linejoin="round" />
<path d="M0 1.4C1 1.5 5.2 1.7 7.3 1.9C9.4 2.2 14 2.8 16 3.3C18 3.8 20.6 5 22.1 5.8C23.6 6.5 25.9 8 27.4 8.9C28.9 9.8 31.9 11.7 33.5 12.6C35.1 13.4 37.8 14.8 39.7 15.1C41.6 15.5 45.5 15.8 47.5 15.5C49.5 15.1 52.4 13.2 54.5 12.5C56.6 11.8 61.1 10.6 63.5 10.2C65.9 9.8 70.2 9.7 72.6 9.6C75 9.6 79.2 9.7 81.6 9.7C84 9.8 88.3 10.3 90.7 10.2C93.1 10.1 97.3 9.5 99.7 9.3C102.1 9.1 106.8 8.6 108.8 8.4C110.8 8.2 114.2 8 115 7.9" fill="none" stroke="#dc2f24" stroke-width="1.0" stroke-linejoin="round" />
<path d="M0 4.9C1 5.1 5.8 5.7 7.3 6.2C8.8 6.7 10.4 8.3 11.6 8.9C12.8 9.6 14.7 10.5 16 11.1C17.3 11.7 19.8 12.5 21.3 13.1C22.8 13.7 25.8 14.9 27.4 15.5C29 16.1 31.8 16.8 33.5 17.4C35.2 17.9 38.6 19.4 40.5 19.7C42.4 20 45.1 19.9 47.5 19.4C49.9 18.8 56.4 16.3 58.5 15.6C60.6 14.9 61.1 14.6 63.5 14.4C65.9 14.2 72.9 13.9 76.5 13.9C80.1 14 87 14.7 90.7 14.7C94.4 14.8 100.8 14.4 104 14.3C107.2 14.2 113.5 13.9 115 13.8" fill="none" stroke="#dc2f24" stroke-width="1.0" stroke-linejoin="round" />
<path d="M0 15.4C0.7 15.6 4 16.4 5.5 16.7C7 17.1 10 17.7 11.6 18C13.2 18.4 16 19.1 17.8 19.5C19.6 20 22.9 20.7 24.8 21.3C26.7 21.8 29.9 23 31.8 23.6C33.7 24.2 36.7 25.7 38.8 26C40.9 26.3 44.9 26.4 47.5 26C50.1 25.5 55.8 23.6 58.5 22.6C61.2 21.6 64.8 19.2 67.9 18.7C71 18.3 78 19.1 81.6 19.2C85.2 19.4 90.5 19.7 95 19.7C99.5 19.7 112.3 19.4 115 19.3" fill="none" stroke="#dc2f24" stroke-width="1.0" stroke-linejoin="round" />
<path d="M0 19.4C1.5 19.9 8.3 22.1 11.6 22.9C14.9 23.8 21.2 24.7 25 25.6C28.8 26.5 36.1 29.5 40 29.8C43.9 30.2 50.8 29.1 54.5 28.2C58.2 27.3 64.4 23.9 68 23.2C71.6 22.6 78 23.3 81.6 23.3C85.2 23.4 90.5 23.9 95 23.8C99.5 23.7 112.3 22.9 115 22.8" fill="none" stroke="#dc2f24" stroke-width="1.0" stroke-linejoin="round" />
<path d="M0 26C2 26.3 11 27.4 15 28.1C19 28.8 26 30.4 30 31.3C34 32.2 41.7 34.9 45 34.9C48.3 34.9 50.8 32.4 54.5 31.2C58.2 30 67.8 26.4 72.6 25.9C77.4 25.4 85 27.3 90.7 27.4C96.4 27.5 111.8 26.6 115 26.5" fill="none" stroke="#dc2f24" stroke-width="1.0" stroke-linejoin="round" />
<path d="M0 86.8C0.9 87.2 5.6 89.9 7.1 90.1C8.6 90.3 10.3 89 11.4 88.4C12.5 87.8 14.8 85.6 15.7 85.8C16.6 86 17.2 89.4 18.3 90.1C19.4 90.8 22.3 91.1 24.3 91C26.3 90.9 30.9 89.2 33 89.3C35.1 89.4 38 91.4 39.8 91.9C41.6 92.4 44.9 92.1 46.7 92.7C48.5 93.3 52 95.4 53.6 96.2C55.2 97 57.4 98.2 58.8 98.7C60.2 99.2 62.4 99.7 64 99.6C65.6 99.5 69.1 98.6 70.9 97.9C72.7 97.2 75.9 95.4 77.7 94.4C79.5 93.4 82.8 91.2 84.6 90.1C86.4 89 89.7 87.1 91.5 85.8C93.3 84.5 96.6 82.1 98.4 80.7C100.2 79.3 103.5 76.8 105.3 75.5C107.1 74.2 110.9 72.1 112.2 71.2C113.5 70.3 114.6 69.3 115 69" fill="none" stroke="#dc2f24" stroke-width="1.0" stroke-linejoin="round" />
<path d="M0.5 106.2C1 106.7 3 109.3 4.4 110.1C5.8 110.9 9.8 112.8 11.2 112.1C12.6 111.4 13.5 104.8 14.6 104.7C15.7 104.6 18 110.4 19.1 111.1C20.2 111.8 21.8 110.6 23 110.1C24.2 109.6 26.6 107.3 27.9 107.2C29.2 107.1 31.4 109 32.7 109.1C34 109.2 36.3 107.7 37.6 107.7C38.9 107.7 41.2 108.8 42.5 109.1C43.8 109.4 46 109.8 47.4 110.1C48.8 110.4 51.8 111.3 53.3 111.6C54.8 111.9 57.1 112.4 58.8 112.5C60.5 112.6 63.9 112.8 65.7 112.5C67.5 112.2 70.8 111 72.6 110C74.4 109 77.7 106.1 79.5 104.8C81.3 103.5 84.6 101.4 86.4 100.5C88.2 99.6 91.1 98.9 93.2 97.9C95.3 96.9 99.8 94.1 101.9 92.7C104 91.3 107.1 88.8 108.8 87.6C110.5 86.4 114.2 84 115 83.5" fill="none" stroke="#dc2f24" stroke-width="1.0" stroke-linejoin="round" />
<path d="M0.5 126.8C1.3 127.7 4.9 132 6.3 133.6C7.7 135.2 10 139.7 11.2 139C12.4 138.3 14.5 129 15.6 128.7C16.7 128.4 18.4 135.8 19.5 136.5C20.6 137.2 22.9 134.9 24 133.6C25.1 132.3 26.7 127.6 27.9 126.8C29.1 126 31.4 127.8 32.7 127.7C34 127.6 36.3 126.4 37.6 126.3C38.9 126.2 41.2 127.1 42.5 127.3C43.8 127.5 46.1 127.4 47.4 127.7C48.7 128 51.2 129.4 52.3 129.7C53.4 130 53.7 130 55.3 129.8C56.9 129.6 61.9 128.6 64 128C66.1 127.4 69.1 126.2 70.9 125.4C72.7 124.6 75.9 122.7 77.7 122C79.5 121.3 82.8 120.8 84.6 120.3C86.4 119.8 89.9 119.3 91.5 118.6C93.1 117.9 95.1 116.5 96.7 115.1C98.3 113.7 101.8 110 103.6 108.2C105.4 106.4 109 102.7 110.5 101.3C112 99.9 114.4 98.4 115 98" fill="none" stroke="#dc2f24" stroke-width="1.0" stroke-linejoin="round" />
<path d="M66 142C66.8 141.7 70.4 140.5 72 140C73.6 139.5 76.4 138.7 78 138C79.6 137.3 82.4 135.9 84 135C85.6 134.1 88.4 132.2 90 131C91.6 129.8 94.4 127.3 96 126C97.6 124.7 100.4 122.3 102 121C103.6 119.7 106.3 117.3 108 116C109.7 114.7 114.1 111.7 115 111" fill="none" stroke="#dc2f24" stroke-width="1.0" stroke-linejoin="round" />
<path d="M55 47C55.3 45.7 56.8 43.8 58 43C59.2 42.2 60.8 41.5 62 42C63.2 42.5 63.8 45.2 65 46C66.2 46.8 68.2 46.2 69 47C69.8 47.8 70.3 50 70 51C69.7 52 67.3 51.8 67 53C66.7 54.2 68.5 57.5 68 58C67.5 58.5 65.2 55.7 64 56C62.8 56.3 62 60.2 61 60C60 59.8 58.8 56.5 58 55C57.2 53.5 56.5 52.3 56 51C55.5 49.7 54.7 48.3 55 47Z" fill="none" stroke="#dc2f24" stroke-width="1.0" stroke-linejoin="round" />
<path d="M0 37.3C0.8 37.5 4.7 38.7 6.2 38.6C7.7 38.5 10 36.6 11.4 36.8C12.8 37 15.2 39.8 16.6 39.9C18 40 20.3 37.1 21.7 37.3C23.1 37.5 25.5 40.2 26.9 41.2C28.3 42.2 30.7 44.8 32.1 45.1C33.5 45.4 36 44.4 37.2 43.8C38.4 43.2 39.7 41.1 41.1 40.4C42.5 39.7 45.9 39.2 47.6 38.6C49.3 38 52.3 37 54 36C55.7 35 59 31.8 60.5 30.9C62 30 63.5 29.2 65.6 29C67.7 28.8 73.2 29 76 29.6C78.8 30.2 84.1 32.1 86.3 33.5C88.5 34.9 91.5 38 92.7 39.9C93.9 41.8 94.9 45.9 95.3 47.7C95.7 49.5 96.2 51.8 95.6 53.7C95 55.6 92.4 59.9 90.9 61.7C89.4 63.5 85.6 65.9 84.2 67.5C82.8 69.1 81.5 72.2 80.2 74C78.9 75.8 76.2 79.5 74.5 81C72.8 82.5 69.5 84.6 67.8 85C66.1 85.4 63 84.8 61.5 84.3C60 83.8 58.1 82.7 56.6 81.2C55.1 79.7 52 75.1 50.6 73.3C49.2 71.5 46.9 69.4 45.8 67.8C44.7 66.2 43.3 62.5 42.3 61C41.3 59.5 39.5 56.6 38.2 56.9C36.9 57.2 34.2 61.9 32.7 63C31.2 64.1 28.9 64 27.3 65.1C25.7 66.2 22.1 71.5 20.4 71.3C18.7 71.1 16.5 64 14.9 63.7C13.3 63.4 9.9 68.7 8.1 69.2C6.3 69.7 2.3 67.4 1.2 67.1C0.1 66.8 0.2 67 0 67" fill="none" stroke="#cf1b14" stroke-width="2.3" stroke-linejoin="round" />
</g>
<path d="M0 0v3.0M0 142v-3.0M5.8 0v1.6M5.8 142v-1.6M11.5 0v1.6M11.5 142v-1.6M17.2 0v1.6M17.2 142v-1.6M23 0v1.6M23 142v-1.6M28.8 0v3.0M28.8 142v-3.0M34.5 0v1.6M34.5 142v-1.6M40.2 0v1.6M40.2 142v-1.6M46 0v1.6M46 142v-1.6M51.8 0v1.6M51.8 142v-1.6M57.5 0v3.0M57.5 142v-3.0M63.2 0v1.6M63.2 142v-1.6M69 0v1.6M69 142v-1.6M74.8 0v1.6M74.8 142v-1.6M80.5 0v1.6M80.5 142v-1.6M86.2 0v3.0M86.2 142v-3.0M92 0v1.6M92 142v-1.6M97.8 0v1.6M97.8 142v-1.6M103.5 0v1.6M103.5 142v-1.6M109.2 0v1.6M109.2 142v-1.6M115 0v3.0M115 142v-3.0M0 0h3.0M115 0h-3.0M0 4.7h1.6M115 4.7h-1.6M0 9.5h1.6M115 9.5h-1.6M0 14.2h1.6M115 14.2h-1.6M0 18.9h1.6M115 18.9h-1.6M0 23.7h3.0M115 23.7h-3.0M0 28.4h1.6M115 28.4h-1.6M0 33.1h1.6M115 33.1h-1.6M0 37.9h1.6M115 37.9h-1.6M0 42.6h1.6M115 42.6h-1.6M0 47.3h3.0M115 47.3h-3.0M0 52.1h1.6M115 52.1h-1.6M0 56.8h1.6M115 56.8h-1.6M0 61.5h1.6M115 61.5h-1.6M0 66.3h1.6M115 66.3h-1.6M0 71h3.0M115 71h-3.0M0 75.7h1.6M115 75.7h-1.6M0 80.5h1.6M115 80.5h-1.6M0 85.2h1.6M115 85.2h-1.6M0 89.9h1.6M115 89.9h-1.6M0 94.7h3.0M115 94.7h-3.0M0 99.4h1.6M115 99.4h-1.6M0 104.1h1.6M115 104.1h-1.6M0 108.9h1.6M115 108.9h-1.6M0 113.6h1.6M115 113.6h-1.6M0 118.3h3.0M115 118.3h-3.0M0 123.1h1.6M115 123.1h-1.6M0 127.8h1.6M115 127.8h-1.6M0 132.5h1.6M115 132.5h-1.6M0 137.3h1.6M115 137.3h-1.6M0 142h3.0M115 142h-3.0" stroke="#262626" stroke-width="0.8" fill="none"/>
<rect width="115" height="142" fill="none" stroke="#262626" stroke-width="1"/>
</g>
<g transform="translate(426.6 321.4)">
<clipPath id="cpe"><rect width="115" height="142"/></clipPath>
<g clip-path="url(#cpe)">
<rect width="115" height="142" fill="#fefbdc"/>
<path d="M-1 -1C1.6 -10.6 35.5 -1.5 38 -1C40.5 -0.5 36.4 5 36 6C35.6 7 32.4 13.1 32 14C31.6 14.9 30.1 18.7 30 20C29.9 21.3 30.8 32.9 30.5 34C30.2 35.1 26.5 36.5 26 37C25.5 37.5 22.8 41.3 22.5 42C22.2 42.7 21.8 47.4 22 48C22.2 48.6 25.3 50.7 26 51C26.7 51.3 31.4 51.4 32 52C32.6 52.6 34.7 58.1 35 60C35.3 61.9 35.9 77.3 36 80C36.1 82.7 36.8 95.8 37 100C37.2 104.2 41.5 140.1 39 143C36.5 145.9 1.7 152.6 -1 143C-3.7 133.4 -3.6 8.6 -1 -1Z" fill="#f4f4f6"/>
<path d="M-1 12C-0.4 10.9 3.9 10.8 5 11C6.1 11.2 9.4 13.3 10 14C10.6 14.7 11.2 17.3 11 18C10.8 18.7 9.2 20.6 8 21C6.8 21.4 -0.1 22.9 -1 22C-1.9 21.1 -1.6 13.1 -1 12Z" fill="#fefbdc"/>
<path d="M-1 32C-0.5 29.5 3.1 30.6 4 31C4.9 31.4 7.5 34.7 8 36C8.5 37.3 9 42.4 9 44C9 45.6 8.5 50.8 8 52C7.5 53.2 4.9 55.6 4 56C3.1 56.4 -0.5 58.4 -1 56C-1.5 53.6 -1.5 34.5 -1 32Z" fill="#fefbdc"/>
<path d="M76 -1C79.7 -2.1 112.7 -8.6 116 -1C119.3 6.6 116.7 82.6 116 90C115.3 97.4 109.3 88.5 108 88C106.7 87.5 101.3 85 100 84C98.7 83 93.2 77.5 92 76C90.8 74.5 86.2 67.7 85 66C83.8 64.3 79.1 57.7 78 56C76.9 54.3 72.9 47.7 72 46C71.1 44.3 67.2 37.8 67 36C66.8 34.2 68.6 26 69 24C69.4 22 71.4 14.1 72 12C72.6 9.9 72.3 0.1 76 -1Z" fill="#f4f4f6"/>
<path d="M78 24C78.6 22.5 81.3 17.7 82.8 17.1C84.3 16.5 88.9 17.7 91 18.5C93.1 19.3 98.4 22.9 100.6 24C102.8 25.1 108.4 27.4 110.2 28.1C112 28.8 115.3 26.9 116 30C116.7 33.1 116.4 52.2 116 55C115.6 57.8 114.7 54.8 112.9 54.1C111.1 53.4 102.9 49.6 100.6 48.7C98.3 47.8 94.6 47.1 93 46.5C91.4 45.9 88.3 44.4 86.9 43.2C85.5 42 82 37.5 81 36C80 34.5 78.3 31.4 78 30C77.7 28.6 77.4 25.5 78 24Z" fill="#abd7ef"/>
<path d="M54 76C54.8 74 56.4 72.8 58 72C59.6 71.2 61.9 71.2 63.4 71.5C64.9 71.8 66.1 72.6 67 74C67.9 75.4 68.2 77.7 69 80C69.8 82.3 71.3 85.7 71.5 88C71.7 90.3 71.1 92.4 70 94C68.9 95.6 67 97 65 97.5C63 98 59.8 97.9 58 97C56.2 96.1 55.3 94.2 54.5 92C53.7 89.8 53.5 86.7 53.4 84C53.3 81.3 53.2 78 54 76Z" fill="#fedf78"/>
<clipPath id="hc3"><path d="M12 0L37 0L35 8L30 17L22 19L16 14Z"/></clipPath><path d="M-2 -118.3L118 1.7M-2 -112.3L118 7.7M-2 -106.3L118 13.7M-2 -100.3L118 19.7M-2 -94.3L118 25.7M-2 -88.3L118 31.7M-2 -82.3L118 37.7M-2 -76.3L118 43.7M-2 -70.3L118 49.7M-2 -64.3L118 55.7M-2 -58.3L118 61.7M-2 -52.3L118 67.7M-2 -46.3L118 73.7M-2 -40.3L118 79.7M-2 -34.3L118 85.7M-2 -28.3L118 91.7M-2 -22.3L118 97.7M-2 -16.3L118 103.7M-2 -10.3L118 109.7M-2 -4.3L118 115.7M-2 1.7L118 121.7M-2 7.7L118 127.7M-2 13.7L118 133.7M-2 19.7L118 139.7M-2 25.7L118 145.7M-2 31.7L118 151.7M-2 37.7L118 157.7M-2 43.7L118 163.7M-2 49.7L118 169.7M-2 55.7L118 175.7M-2 61.7L118 181.7M-2 67.7L118 187.7M-2 73.7L118 193.7M-2 79.7L118 199.7M-2 85.7L118 205.7M-2 91.7L118 211.7M-2 97.7L118 217.7M-2 103.7L118 223.7M-2 109.7L118 229.7M-2 115.7L118 235.7M-2 121.7L118 241.7M-2 127.7L118 247.7M-2 133.7L118 253.7M-2 139.7L118 259.7M-2 145.7L118 265.7M-2 4.5L118 -115.5M-2 10.5L118 -109.5M-2 16.5L118 -103.5M-2 22.5L118 -97.5M-2 28.5L118 -91.5M-2 34.5L118 -85.5M-2 40.5L118 -79.5M-2 46.5L118 -73.5M-2 52.5L118 -67.5M-2 58.5L118 -61.5M-2 64.5L118 -55.5M-2 70.5L118 -49.5M-2 76.5L118 -43.5M-2 82.5L118 -37.5M-2 88.5L118 -31.5M-2 94.5L118 -25.5M-2 100.5L118 -19.5M-2 106.5L118 -13.5M-2 112.5L118 -7.5M-2 118.5L118 -1.5M-2 124.5L118 4.5M-2 130.5L118 10.5M-2 136.5L118 16.5M-2 142.5L118 22.5M-2 148.5L118 28.5M-2 154.5L118 34.5M-2 160.5L118 40.5M-2 166.5L118 46.5M-2 172.5L118 52.5M-2 178.5L118 58.5M-2 184.5L118 64.5M-2 190.5L118 70.5M-2 196.5L118 76.5M-2 202.5L118 82.5M-2 208.5L118 88.5M-2 214.5L118 94.5M-2 220.5L118 100.5M-2 226.5L118 106.5M-2 232.5L118 112.5M-2 238.5L118 118.5M-2 244.5L118 124.5M-2 250.5L118 130.5M-2 256.5L118 136.5M-2 262.5L118 142.5M-2 268.5L118 148.5" stroke="#36423a" stroke-width="0.5" fill="none" clip-path="url(#hc3)"/>
<clipPath id="hc4"><path d="M0 56L8 55L14 50L18 48L24 49L30 47L33 40L35 33L40 29L48 28L56 31L62 36L68 30L74 22L80 16L90 14L100 17L110 22L115 24L115 104L102.5 106L95.5 107.7L92 102.4L88.5 84.9L81.5 67.4L78 58L70 57L64 62L60 72L57 85L56 100L57 115L58 130L59 142L0 142Z"/></clipPath><path d="M-2 -118.3L118 1.7M-2 -112.3L118 7.7M-2 -106.3L118 13.7M-2 -100.3L118 19.7M-2 -94.3L118 25.7M-2 -88.3L118 31.7M-2 -82.3L118 37.7M-2 -76.3L118 43.7M-2 -70.3L118 49.7M-2 -64.3L118 55.7M-2 -58.3L118 61.7M-2 -52.3L118 67.7M-2 -46.3L118 73.7M-2 -40.3L118 79.7M-2 -34.3L118 85.7M-2 -28.3L118 91.7M-2 -22.3L118 97.7M-2 -16.3L118 103.7M-2 -10.3L118 109.7M-2 -4.3L118 115.7M-2 1.7L118 121.7M-2 7.7L118 127.7M-2 13.7L118 133.7M-2 19.7L118 139.7M-2 25.7L118 145.7M-2 31.7L118 151.7M-2 37.7L118 157.7M-2 43.7L118 163.7M-2 49.7L118 169.7M-2 55.7L118 175.7M-2 61.7L118 181.7M-2 67.7L118 187.7M-2 73.7L118 193.7M-2 79.7L118 199.7M-2 85.7L118 205.7M-2 91.7L118 211.7M-2 97.7L118 217.7M-2 103.7L118 223.7M-2 109.7L118 229.7M-2 115.7L118 235.7M-2 121.7L118 241.7M-2 127.7L118 247.7M-2 133.7L118 253.7M-2 139.7L118 259.7M-2 145.7L118 265.7M-2 4.5L118 -115.5M-2 10.5L118 -109.5M-2 16.5L118 -103.5M-2 22.5L118 -97.5M-2 28.5L118 -91.5M-2 34.5L118 -85.5M-2 40.5L118 -79.5M-2 46.5L118 -73.5M-2 52.5L118 -67.5M-2 58.5L118 -61.5M-2 64.5L118 -55.5M-2 70.5L118 -49.5M-2 76.5L118 -43.5M-2 82.5L118 -37.5M-2 88.5L118 -31.5M-2 94.5L118 -25.5M-2 100.5L118 -19.5M-2 106.5L118 -13.5M-2 112.5L118 -7.5M-2 118.5L118 -1.5M-2 124.5L118 4.5M-2 130.5L118 10.5M-2 136.5L118 16.5M-2 142.5L118 22.5M-2 148.5L118 28.5M-2 154.5L118 34.5M-2 160.5L118 40.5M-2 166.5L118 46.5M-2 172.5L118 52.5M-2 178.5L118 58.5M-2 184.5L118 64.5M-2 190.5L118 70.5M-2 196.5L118 76.5M-2 202.5L118 82.5M-2 208.5L118 88.5M-2 214.5L118 94.5M-2 220.5L118 100.5M-2 226.5L118 106.5M-2 232.5L118 112.5M-2 238.5L118 118.5M-2 244.5L118 124.5M-2 250.5L118 130.5M-2 256.5L118 136.5M-2 262.5L118 142.5M-2 268.5L118 148.5" stroke="#36423a" stroke-width="0.5" fill="none" clip-path="url(#hc4)"/>
<path d="M82 142L83 134L86 126L90 120L94 116L97 112L101 111L104 109L108 110L111 107L115 106" fill="none" stroke="#3b3bcc" stroke-width="1.0" stroke-linejoin="round" />
<path d="M73 0L76.5 5.5L80 0" fill="none" stroke="#3b3bcc" stroke-width="1.0" stroke-linejoin="round" />
<path d="M0 3.2C0.8 3.3 4.2 3.4 6.2 3.6C8.2 3.8 12.8 4.5 14.9 4.9C17 5.3 20.2 6.3 21.9 6.7C23.6 7.1 26.6 7.4 28 8C29.4 8.6 31.2 10.9 32.4 11.5C33.6 12.1 35.4 12.5 36.8 12.4C38.2 12.3 41.2 10.8 42.9 10.5C44.6 10.2 48 10.1 49.9 10C51.8 9.9 53.9 9.8 57.4 10C60.9 10.2 71.1 11.1 76.1 11.5C81.1 11.9 89.6 12.5 94.8 12.8C100 13.1 112.3 13.4 115 13.5" fill="none" stroke="#dc2f24" stroke-width="1.0" stroke-linejoin="round" />
<path d="M0 5.4C1.1 5.5 6.5 5.3 7.9 5.8C9.3 6.3 9.8 7.8 10.5 8.9C11.2 10 12.5 12.8 13.2 14.1C13.9 15.4 14.9 17.9 15.8 18.5C16.7 19.1 18.9 19 20.2 18.9C21.5 18.8 24.2 18.2 25.4 18C26.6 17.8 28.2 17 28.9 17.2C29.6 17.4 30.2 18.8 30.7 19.4C31.2 20 31.7 21.9 32.4 22C33.1 22.1 35 20.9 35.9 20.2C36.8 19.5 38.5 17.5 39.4 16.7C40.3 15.9 41.5 14.8 42.9 14.5C44.3 14.2 48 14.2 49.9 14.2C51.8 14.2 54.2 13.9 57.4 14.2C60.6 14.5 69.5 15.6 73.6 16.1C77.7 16.6 84.8 17.3 88.5 17.9C92.2 18.5 98 19.7 101 20.4C104 21.1 109.1 22.9 111 23.5C112.9 24.1 114.5 24.6 115 24.8" fill="none" stroke="#dc2f24" stroke-width="1.0" stroke-linejoin="round" />
<path d="M0 16.7C0.5 16.8 2.7 17.1 3.5 17.6C4.3 18.1 5.5 19.3 6.2 20.2C6.9 21.1 8 23.3 8.8 24.6C9.6 25.9 11.2 28.8 12.3 29.9C13.4 31 15.4 32.3 16.7 32.5C18 32.7 20.5 32.1 21.9 31.6C23.3 31.1 26.1 29.2 27.2 29C28.3 28.8 29.1 29.6 29.8 29.9C30.5 30.2 31.6 31.7 32.4 31.6C33.2 31.5 35 30.2 35.9 29C36.8 27.8 38.5 24.1 39.4 22.9C40.3 21.7 41.5 20.3 42.9 19.8C44.3 19.3 48 19.5 49.9 19.5C51.8 19.5 54.9 19.7 57.4 19.8C59.9 19.9 66.1 20.1 68.6 20.4C71.1 20.7 74.3 21.6 76.1 22.3C77.9 23 80.5 25 82.3 26C84.1 27 88.1 28.6 89.8 29.8C91.5 31 93.8 33.3 94.8 34.8C95.8 36.3 97.1 39.5 97.3 41C97.5 42.5 96.7 44.7 96 46C95.3 47.3 93.5 49.7 92.3 51C91.1 52.3 88.7 54.6 87.3 55.9C85.9 57.2 83.5 59.4 82 61C80.5 62.6 77.6 66 76 68C74.4 70 71.7 73.6 70 76C68.3 78.4 64.7 83.3 63 86C61.3 88.7 58.5 93.3 57 96C55.5 98.7 53.1 103.7 52 106C50.9 108.3 49.4 111.9 48.5 113C47.6 114.1 46.1 114.4 45 114C43.9 113.6 41.4 111.5 40 110C38.6 108.5 35.7 105.1 34.2 102.4C32.7 99.7 30.4 92.9 29 90.1C27.6 87.3 25.3 83.4 23.7 81.4C22.1 79.4 18.6 75.9 16.7 75.2C14.8 74.5 11.6 76.4 9.7 76.1C7.8 75.8 4 73.3 2.7 72.6C1.4 71.9 0.4 71.2 0 71" fill="none" stroke="#dc2f24" stroke-width="1.0" stroke-linejoin="round" />
<path d="M37.7 38.6C37.9 37.7 38.7 33.3 39.4 31.6C40.1 29.9 42 26.6 42.9 25.5C43.8 24.4 45.2 23.8 46.4 23.7C47.6 23.6 50.2 24.2 51.7 24.6C53.2 25 55.6 26 57.4 26.5C59.2 27 63.1 27.8 64.9 28.5C66.7 29.2 69.8 30.3 71.1 31.6C72.4 32.9 74.1 36.6 74.8 38.5C75.5 40.4 76.1 43.7 76.1 46C76.1 48.3 75.5 53.4 74.8 55.9C74.1 58.4 72.1 62.6 71.1 64.6C70.1 66.6 68.6 69.1 67.4 70.9C66.2 72.7 63.6 76 62.2 78C60.8 80 58.2 84.4 57 86C55.8 87.6 54.7 89.1 53.5 90.1C52.3 91.1 49.4 93.4 48.2 93.6C47 93.8 45.9 93.1 44.7 91.9C43.5 90.7 40.8 87.5 39.4 84.9C38 82.3 35.1 76.1 34.2 72.6C33.3 69.1 32.4 61.9 32.4 58.6C32.4 55.3 33.3 50.7 34 48C34.7 45.3 37.2 39.9 37.7 38.6" fill="none" stroke="#dc2f24" stroke-width="1.0" stroke-linejoin="round" />
<path d="M72 19.5C73 19.5 77.4 19.4 79.8 19.5C82.2 19.6 87 20 89.8 20.5C92.6 21 98.2 22.3 101 23C103.8 23.7 109.3 24.6 111 26C112.7 27.4 113 30.8 113.4 33.5C113.8 36.2 114.2 42.7 114 46C113.8 49.3 113.1 55.9 112.2 58.4C111.3 60.9 109.2 63.4 107.2 64.6C105.2 65.8 99.8 66.3 97.3 67.1C94.8 67.9 90.5 69.7 88.5 70.9C86.5 72.1 83.7 74.6 82.3 75.9C80.9 77.2 79.4 79.3 78 81C76.6 82.7 73.7 86.7 72 89C70.3 91.3 66.9 95.5 65 98C63.1 100.5 59.6 105.3 58 108C56.4 110.7 54.2 115.3 53 118C51.8 120.7 49.9 124.8 49 128C48.1 131.2 46.8 140.1 46.5 142" fill="none" stroke="#dc2f24" stroke-width="1.0" stroke-linejoin="round" />
<path d="M0 93.6C0.4 93.6 1.4 92.4 2.7 93.6C4 94.8 8.1 101.2 9.7 102.4C11.3 103.6 13.5 102.6 14.9 102.4C16.3 102.2 18.6 99.4 20.2 100.6C21.8 101.8 25.6 108.6 27.2 111.2C28.8 113.8 31 117.6 32.4 119.9C33.8 122.2 36.3 126.4 37.7 128.7C39.1 131 41.9 135.6 42.9 137.4C43.9 139.2 44.7 141.4 45 142" fill="none" stroke="#dc2f24" stroke-width="1.0" stroke-linejoin="round" />
<path d="M57 142C57.9 140.7 61.9 135.1 64 132.2C66.1 129.3 70.4 122.9 72.7 119.9C75 116.9 78.9 112.2 81.5 109.4C84.1 106.6 89.2 101.5 92 98.9C94.8 96.3 99.4 92.2 102.5 90.1C105.6 88 113.3 83.9 115 83" fill="none" stroke="#dc2f24" stroke-width="1.0" stroke-linejoin="round" />
<path d="M74 142C74.8 140.9 78.1 136.4 80 134C81.9 131.6 85.7 126.5 88 124C90.3 121.5 94.6 117.1 97 115C99.4 112.9 103.6 109.6 106 108C108.4 106.4 113.8 103.7 115 103" fill="none" stroke="#dc2f24" stroke-width="1.0" stroke-linejoin="round" />
<path d="M0.9 111.2C1.4 113.1 3.5 122.4 4.4 125.2C5.3 128 6.7 130.8 7.9 132.2C9.1 133.6 12 136.2 13.2 135.7C14.4 135.2 15.8 128.2 16.7 128.7C17.6 129.2 19.3 137.3 20.2 139.2C21.1 141.1 23.2 142.2 23.7 142.7" fill="none" stroke="#dc2f24" stroke-width="1.0" stroke-linejoin="round" />
<path d="M0 31.6C0.5 31.8 3.1 31.9 4 33C4.9 34.1 6.5 38.3 7 40C7.5 41.7 8 44.4 8 46C8 47.6 7.5 50.7 7 52C6.5 53.3 4.9 55.3 4 56C3.1 56.7 0.5 56.9 0 57" fill="none" stroke="#dc2f24" stroke-width="1.0" stroke-linejoin="round" />
<path d="M43 33C43.7 32.3 45.9 31.5 47 31.5C48.1 31.5 49.9 32.5 51 33C52.1 33.5 54.1 34.2 55 35C55.9 35.8 57.5 37.3 58 39C58.5 40.7 58.5 45.5 58.5 48C58.5 50.5 58.3 55.7 58 58C57.7 60.3 56.8 63.9 56 65C55.2 66.1 52.9 65.3 52 66C51.1 66.7 49.8 68.4 49 70C48.2 71.6 46.7 77.5 46 78C45.3 78.5 44.5 75.6 44 74C43.5 72.4 42.4 68.5 42 66C41.6 63.5 41.1 57.9 41 55C40.9 52.1 40.9 46.4 41 44C41.1 41.6 41.2 38.5 41.5 37C41.8 35.5 42.3 33.7 43 33Z" fill="none" stroke="#cf1b14" stroke-width="2.3" stroke-linejoin="round" />
</g>
<path d="M0 0v3.0M0 142v-3.0M5.8 0v1.6M5.8 142v-1.6M11.5 0v1.6M11.5 142v-1.6M17.2 0v1.6M17.2 142v-1.6M23 0v1.6M23 142v-1.6M28.8 0v3.0M28.8 142v-3.0M34.5 0v1.6M34.5 142v-1.6M40.2 0v1.6M40.2 142v-1.6M46 0v1.6M46 142v-1.6M51.8 0v1.6M51.8 142v-1.6M57.5 0v3.0M57.5 142v-3.0M63.2 0v1.6M63.2 142v-1.6M69 0v1.6M69 142v-1.6M74.8 0v1.6M74.8 142v-1.6M80.5 0v1.6M80.5 142v-1.6M86.2 0v3.0M86.2 142v-3.0M92 0v1.6M92 142v-1.6M97.8 0v1.6M97.8 142v-1.6M103.5 0v1.6M103.5 142v-1.6M109.2 0v1.6M109.2 142v-1.6M115 0v3.0M115 142v-3.0M0 0h3.0M115 0h-3.0M0 4.7h1.6M115 4.7h-1.6M0 9.5h1.6M115 9.5h-1.6M0 14.2h1.6M115 14.2h-1.6M0 18.9h1.6M115 18.9h-1.6M0 23.7h3.0M115 23.7h-3.0M0 28.4h1.6M115 28.4h-1.6M0 33.1h1.6M115 33.1h-1.6M0 37.9h1.6M115 37.9h-1.6M0 42.6h1.6M115 42.6h-1.6M0 47.3h3.0M115 47.3h-3.0M0 52.1h1.6M115 52.1h-1.6M0 56.8h1.6M115 56.8h-1.6M0 61.5h1.6M115 61.5h-1.6M0 66.3h1.6M115 66.3h-1.6M0 71h3.0M115 71h-3.0M0 75.7h1.6M115 75.7h-1.6M0 80.5h1.6M115 80.5h-1.6M0 85.2h1.6M115 85.2h-1.6M0 89.9h1.6M115 89.9h-1.6M0 94.7h3.0M115 94.7h-3.0M0 99.4h1.6M115 99.4h-1.6M0 104.1h1.6M115 104.1h-1.6M0 108.9h1.6M115 108.9h-1.6M0 113.6h1.6M115 113.6h-1.6M0 118.3h3.0M115 118.3h-3.0M0 123.1h1.6M115 123.1h-1.6M0 127.8h1.6M115 127.8h-1.6M0 132.5h1.6M115 132.5h-1.6M0 137.3h1.6M115 137.3h-1.6M0 142h3.0M115 142h-3.0" stroke="#262626" stroke-width="0.8" fill="none"/>
<rect width="115" height="142" fill="none" stroke="#262626" stroke-width="1"/>
</g>
<g transform="translate(560.5 321.4)">
<clipPath id="cpf"><rect width="115" height="142"/></clipPath>
<g clip-path="url(#cpf)">
<rect width="115" height="142" fill="#fefbdc"/>
<path d="M50 -1C54.8 -1.8 110.5 -4.4 116 -1C121.5 2.4 117.3 37.1 116 40C114.7 42.9 102.3 34.9 100 34C97.7 33.1 90 29.9 88 29C86 28.1 77.7 24 76 23C74.3 22 69.5 18.2 68 17C66.5 15.8 59.5 9.5 58 8C56.5 6.5 45.2 -0.2 50 -1Z" fill="#f4f4f6"/>
<path d="M101 -1C102.5 -1.5 114.5 -2.1 116 -1C117.5 0.1 116.6 8.9 116 10C115.4 11.1 111.2 9.7 110 9.5C108.8 9.3 104.8 8.6 104 8C103.2 7.5 101.8 4.9 101.5 4C101.2 3.1 99.5 -0.5 101 -1Z" fill="#abd7ef"/>
<path d="M50.1 14.6C51.1 14.3 56.5 17.2 58 18C59.5 18.8 66.6 23.1 68 23.6C69.4 24.1 72.8 23.7 74.5 24.2C76.2 24.7 85.9 28.6 88 29.5C90.1 30.4 97.7 33.6 100 34.5C102.3 35.4 114.7 34.1 116 40C117.3 45.9 116.5 99.2 116 105C115.5 110.8 110.9 108.2 109.6 109C108.3 109.8 101.5 113.9 100 114.5C98.5 115.1 93.2 116.2 92 116.5C90.8 116.8 86.3 117.3 85.1 117.7C83.9 118.1 78.9 120.3 78 121C77.1 121.7 75.2 125.2 74.6 126.4C74 127.6 70.9 133.6 70.5 135C70.1 136.4 73 142.3 69.3 143C65.6 143.7 30.4 144.7 26.4 143C22.4 141.3 22.1 126.3 21.2 122.9C20.3 119.5 16.6 105.4 15.9 101.9C15.2 98.4 12.8 83.6 13.3 80.8C13.8 78 20.6 70.3 22 68C23.4 65.7 28.6 54.8 29.5 53.1C30.4 51.4 32.5 49.6 33.4 48C34.3 46.4 38.7 36.1 39.8 33.9C40.9 31.6 45.3 22.6 46.2 21C47.1 19.4 49.1 14.8 50.1 14.6Z" fill="#fedf78"/>
<path d="M-1 73C-0.4 69.8 4.1 73.3 5 75C5.9 76.7 7.9 87 8 90C8.1 93 6.9 103.3 6 105C5.1 106.7 -0.3 110.2 -1 107C-1.7 103.8 -1.6 76.2 -1 73Z" fill="#fedf78"/>
<path d="M45 46C46.8 44.7 50 44 52 45C54 46 55.5 48.7 57 52C58.5 55.3 60 60.3 61 65C62 69.7 62.7 75 63 80C63.3 85 63.3 90.3 63 95C62.7 99.7 62.2 104.2 61 108C59.8 111.8 57.8 115.8 56 118C54.2 120.2 52 121 50 121C48 121 45.8 120.2 44 118C42.2 115.8 40.2 111.8 39 108C37.8 104.2 37.3 99.7 37 95C36.7 90.3 36.8 85 37 80C37.2 75 37.3 69.5 38 65C38.7 60.5 39.8 56.2 41 53C42.2 49.8 43.2 47.3 45 46Z" fill="#fdac58"/>
<clipPath id="hc5"><path d="M14 0L36 0L35 5L31 12L28 17L18 17L14 10Z"/></clipPath><path d="M-2 -116.4L118 3.6M-2 -110.4L118 9.6M-2 -104.4L118 15.6M-2 -98.4L118 21.6M-2 -92.4L118 27.6M-2 -86.4L118 33.6M-2 -80.4L118 39.6M-2 -74.4L118 45.6M-2 -68.4L118 51.6M-2 -62.4L118 57.6M-2 -56.4L118 63.6M-2 -50.4L118 69.6M-2 -44.4L118 75.6M-2 -38.4L118 81.6M-2 -32.4L118 87.6M-2 -26.4L118 93.6M-2 -20.4L118 99.6M-2 -14.4L118 105.6M-2 -8.4L118 111.6M-2 -2.4L118 117.6M-2 3.6L118 123.6M-2 9.6L118 129.6M-2 15.6L118 135.6M-2 21.6L118 141.6M-2 27.6L118 147.6M-2 33.6L118 153.6M-2 39.6L118 159.6M-2 45.6L118 165.6M-2 51.6L118 171.6M-2 57.6L118 177.6M-2 63.6L118 183.6M-2 69.6L118 189.6M-2 75.6L118 195.6M-2 81.6L118 201.6M-2 87.6L118 207.6M-2 93.6L118 213.6M-2 99.6L118 219.6M-2 105.6L118 225.6M-2 111.6L118 231.6M-2 117.6L118 237.6M-2 123.6L118 243.6M-2 129.6L118 249.6M-2 135.6L118 255.6M-2 141.6L118 261.6M-2 147.6L118 267.6M-2 2.6L118 -117.4M-2 8.6L118 -111.4M-2 14.6L118 -105.4M-2 20.6L118 -99.4M-2 26.6L118 -93.4M-2 32.6L118 -87.4M-2 38.6L118 -81.4M-2 44.6L118 -75.4M-2 50.6L118 -69.4M-2 56.6L118 -63.4M-2 62.6L118 -57.4M-2 68.6L118 -51.4M-2 74.6L118 -45.4M-2 80.6L118 -39.4M-2 86.6L118 -33.4M-2 92.6L118 -27.4M-2 98.6L118 -21.4M-2 104.6L118 -15.4M-2 110.6L118 -9.4M-2 116.6L118 -3.4M-2 122.6L118 2.6M-2 128.6L118 8.6M-2 134.6L118 14.6M-2 140.6L118 20.6M-2 146.6L118 26.6M-2 152.6L118 32.6M-2 158.6L118 38.6M-2 164.6L118 44.6M-2 170.6L118 50.6M-2 176.6L118 56.6M-2 182.6L118 62.6M-2 188.6L118 68.6M-2 194.6L118 74.6M-2 200.6L118 80.6M-2 206.6L118 86.6M-2 212.6L118 92.6M-2 218.6L118 98.6M-2 224.6L118 104.6M-2 230.6L118 110.6M-2 236.6L118 116.6M-2 242.6L118 122.6M-2 248.6L118 128.6M-2 254.6L118 134.6M-2 260.6L118 140.6M-2 266.6L118 146.6" stroke="#36423a" stroke-width="0.5" fill="none" clip-path="url(#hc5)"/>
<clipPath id="hc6"><path d="M0 46L30 46L33 40L40 36L52 35L60 32L66 26L74 20L86 22L100 26L115 28L115 104.5L106 106L96 108L86 109L82 100L76 90L70 80L64 75L62 90L63 110L66 125L68 142L0 142Z"/></clipPath><path d="M-2 -116.4L118 3.6M-2 -110.4L118 9.6M-2 -104.4L118 15.6M-2 -98.4L118 21.6M-2 -92.4L118 27.6M-2 -86.4L118 33.6M-2 -80.4L118 39.6M-2 -74.4L118 45.6M-2 -68.4L118 51.6M-2 -62.4L118 57.6M-2 -56.4L118 63.6M-2 -50.4L118 69.6M-2 -44.4L118 75.6M-2 -38.4L118 81.6M-2 -32.4L118 87.6M-2 -26.4L118 93.6M-2 -20.4L118 99.6M-2 -14.4L118 105.6M-2 -8.4L118 111.6M-2 -2.4L118 117.6M-2 3.6L118 123.6M-2 9.6L118 129.6M-2 15.6L118 135.6M-2 21.6L118 141.6M-2 27.6L118 147.6M-2 33.6L118 153.6M-2 39.6L118 159.6M-2 45.6L118 165.6M-2 51.6L118 171.6M-2 57.6L118 177.6M-2 63.6L118 183.6M-2 69.6L118 189.6M-2 75.6L118 195.6M-2 81.6L118 201.6M-2 87.6L118 207.6M-2 93.6L118 213.6M-2 99.6L118 219.6M-2 105.6L118 225.6M-2 111.6L118 231.6M-2 117.6L118 237.6M-2 123.6L118 243.6M-2 129.6L118 249.6M-2 135.6L118 255.6M-2 141.6L118 261.6M-2 147.6L118 267.6M-2 2.6L118 -117.4M-2 8.6L118 -111.4M-2 14.6L118 -105.4M-2 20.6L118 -99.4M-2 26.6L118 -93.4M-2 32.6L118 -87.4M-2 38.6L118 -81.4M-2 44.6L118 -75.4M-2 50.6L118 -69.4M-2 56.6L118 -63.4M-2 62.6L118 -57.4M-2 68.6L118 -51.4M-2 74.6L118 -45.4M-2 80.6L118 -39.4M-2 86.6L118 -33.4M-2 92.6L118 -27.4M-2 98.6L118 -21.4M-2 104.6L118 -15.4M-2 110.6L118 -9.4M-2 116.6L118 -3.4M-2 122.6L118 2.6M-2 128.6L118 8.6M-2 134.6L118 14.6M-2 140.6L118 20.6M-2 146.6L118 26.6M-2 152.6L118 32.6M-2 158.6L118 38.6M-2 164.6L118 44.6M-2 170.6L118 50.6M-2 176.6L118 56.6M-2 182.6L118 62.6M-2 188.6L118 68.6M-2 194.6L118 74.6M-2 200.6L118 80.6M-2 206.6L118 86.6M-2 212.6L118 92.6M-2 218.6L118 98.6M-2 224.6L118 104.6M-2 230.6L118 110.6M-2 236.6L118 116.6M-2 242.6L118 122.6M-2 248.6L118 128.6M-2 254.6L118 134.6M-2 260.6L118 140.6M-2 266.6L118 146.6" stroke="#36423a" stroke-width="0.5" fill="none" clip-path="url(#hc6)"/>
<path d="M83.3 142L85 134L88 128L92.1 122.9L96 118L99 114L102.6 110.6L106 109L109 107L113.1 105.4L115 104" fill="none" stroke="#3b3bcc" stroke-width="1.0" stroke-linejoin="round" />
<path d="M75 0L79 6.5L83 0" fill="none" stroke="#3b3bcc" stroke-width="1.0" stroke-linejoin="round" />
<path d="M0 3.2C0.8 3.3 4.2 3.4 6.2 3.6C8.2 3.8 12.8 4.5 14.9 4.9C17 5.3 20.2 6.3 21.9 6.7C23.6 7.1 26.6 7.4 28 8C29.4 8.6 31.2 10.9 32.4 11.5C33.6 12.1 35.4 12.5 36.8 12.4C38.2 12.3 41.2 10.8 42.9 10.5C44.6 10.2 48 10.1 49.9 10C51.8 9.9 53.9 9.8 57.4 10C60.9 10.2 71.1 11.1 76.1 11.5C81.1 11.9 89.6 12.5 94.8 12.8C100 13.1 112.3 13.4 115 13.5" fill="none" stroke="#dc2f24" stroke-width="1.0" stroke-linejoin="round" />
<path d="M0 5.4C1.1 5.5 6.5 5.3 7.9 5.8C9.3 6.3 9.8 7.8 10.5 8.9C11.2 10 12.5 12.8 13.2 14.1C13.9 15.4 14.9 17.9 15.8 18.5C16.7 19.1 18.9 19 20.2 18.9C21.5 18.8 24.2 18.2 25.4 18C26.6 17.8 28.2 17 28.9 17.2C29.6 17.4 30.2 18.8 30.7 19.4C31.2 20 31.7 21.9 32.4 22C33.1 22.1 35 20.9 35.9 20.2C36.8 19.5 38.5 17.5 39.4 16.7C40.3 15.9 41.5 14.8 42.9 14.5C44.3 14.2 48 14.2 49.9 14.2C51.8 14.2 54.2 13.9 57.4 14.2C60.6 14.5 69.5 15.6 73.6 16.1C77.7 16.6 84.8 17.3 88.5 17.9C92.2 18.5 98 19.7 101 20.4C104 21.1 109.1 22.9 111 23.5C112.9 24.1 114.5 24.6 115 24.8" fill="none" stroke="#dc2f24" stroke-width="1.0" stroke-linejoin="round" />
<path d="M0 16.7C0.5 16.8 2.7 17.1 3.5 17.6C4.3 18.1 5.5 19.3 6.2 20.2C6.9 21.1 8 23.3 8.8 24.6C9.6 25.9 11.2 28.8 12.3 29.9C13.4 31 15.4 32.3 16.7 32.5C18 32.7 20.5 32.1 21.9 31.6C23.3 31.1 26.1 29.2 27.2 29C28.3 28.8 29.1 29.6 29.8 29.9C30.5 30.2 31.6 31.7 32.4 31.6C33.2 31.5 35 30.2 35.9 29C36.8 27.8 38.5 24.1 39.4 22.9C40.3 21.7 41.5 20.3 42.9 19.8C44.3 19.3 48 19.5 49.9 19.5C51.8 19.5 54.9 19.7 57.4 19.8C59.9 19.9 66.1 20.1 68.6 20.4C71.1 20.7 74.3 21.6 76.1 22.3C77.9 23 80.5 25 82.3 26C84.1 27 88.1 28.6 89.8 29.8C91.5 31 93.8 33.3 94.8 34.8C95.8 36.3 97.1 39.5 97.3 41C97.5 42.5 96.7 44.7 96 46C95.3 47.3 93.5 49.7 92.3 51C91.1 52.3 88.7 54.6 87.3 55.9C85.9 57.2 83.5 59.4 82 61C80.5 62.6 77.6 66 76 68C74.4 70 71.7 73.6 70 76C68.3 78.4 64.7 83.3 63 86C61.3 88.7 58.5 93.3 57 96C55.5 98.7 53.1 103.7 52 106C50.9 108.3 49.4 111.9 48.5 113C47.6 114.1 46.1 114.4 45 114C43.9 113.6 41.4 111.5 40 110C38.6 108.5 35.7 105.1 34.2 102.4C32.7 99.7 30.4 92.9 29 90.1C27.6 87.3 25.3 83.4 23.7 81.4C22.1 79.4 18.6 75.9 16.7 75.2C14.8 74.5 11.6 76.4 9.7 76.1C7.8 75.8 4 73.3 2.7 72.6C1.4 71.9 0.4 71.2 0 71" fill="none" stroke="#dc2f24" stroke-width="1.0" stroke-linejoin="round" />
<path d="M37.7 38.6C37.9 37.7 38.7 33.3 39.4 31.6C40.1 29.9 42 26.6 42.9 25.5C43.8 24.4 45.2 23.8 46.4 23.7C47.6 23.6 50.2 24.2 51.7 24.6C53.2 25 55.6 26 57.4 26.5C59.2 27 63.1 27.8 64.9 28.5C66.7 29.2 69.8 30.3 71.1 31.6C72.4 32.9 74.1 36.6 74.8 38.5C75.5 40.4 76.1 43.7 76.1 46C76.1 48.3 75.5 53.4 74.8 55.9C74.1 58.4 72.1 62.6 71.1 64.6C70.1 66.6 68.6 69.1 67.4 70.9C66.2 72.7 63.6 76 62.2 78C60.8 80 58.2 84.4 57 86C55.8 87.6 54.7 89.1 53.5 90.1C52.3 91.1 49.4 93.4 48.2 93.6C47 93.8 45.9 93.1 44.7 91.9C43.5 90.7 40.8 87.5 39.4 84.9C38 82.3 35.1 76.1 34.2 72.6C33.3 69.1 32.4 61.9 32.4 58.6C32.4 55.3 33.3 50.7 34 48C34.7 45.3 37.2 39.9 37.7 38.6" fill="none" stroke="#dc2f24" stroke-width="1.0" stroke-linejoin="round" />
<path d="M72 19.5C73 19.5 77.4 19.4 79.8 19.5C82.2 19.6 87 20 89.8 20.5C92.6 21 98.2 22.3 101 23C103.8 23.7 109.3 24.6 111 26C112.7 27.4 113 30.8 113.4 33.5C113.8 36.2 114.2 42.7 114 46C113.8 49.3 113.1 55.9 112.2 58.4C111.3 60.9 109.2 63.4 107.2 64.6C105.2 65.8 99.8 66.3 97.3 67.1C94.8 67.9 90.5 69.7 88.5 70.9C86.5 72.1 83.7 74.6 82.3 75.9C80.9 77.2 79.4 79.3 78 81C76.6 82.7 73.7 86.7 72 89C70.3 91.3 66.9 95.5 65 98C63.1 100.5 59.6 105.3 58 108C56.4 110.7 54.2 115.3 53 118C51.8 120.7 49.9 124.8 49 128C48.1 131.2 46.8 140.1 46.5 142" fill="none" stroke="#dc2f24" stroke-width="1.0" stroke-linejoin="round" />
<path d="M0 93.6C0.4 93.6 1.4 92.4 2.7 93.6C4 94.8 8.1 101.2 9.7 102.4C11.3 103.6 13.5 102.6 14.9 102.4C16.3 102.2 18.6 99.4 20.2 100.6C21.8 101.8 25.6 108.6 27.2 111.2C28.8 113.8 31 117.6 32.4 119.9C33.8 122.2 36.3 126.4 37.7 128.7C39.1 131 41.9 135.6 42.9 137.4C43.9 139.2 44.7 141.4 45 142" fill="none" stroke="#dc2f24" stroke-width="1.0" stroke-linejoin="round" />
<path d="M57 142C57.9 140.7 61.9 135.1 64 132.2C66.1 129.3 70.4 122.9 72.7 119.9C75 116.9 78.9 112.2 81.5 109.4C84.1 106.6 89.2 101.5 92 98.9C94.8 96.3 99.4 92.2 102.5 90.1C105.6 88 113.3 83.9 115 83" fill="none" stroke="#dc2f24" stroke-width="1.0" stroke-linejoin="round" />
<path d="M74 142C74.8 140.9 78.1 136.4 80 134C81.9 131.6 85.7 126.5 88 124C90.3 121.5 94.6 117.1 97 115C99.4 112.9 103.6 109.6 106 108C108.4 106.4 113.8 103.7 115 103" fill="none" stroke="#dc2f24" stroke-width="1.0" stroke-linejoin="round" />
<path d="M0.9 111.2C1.4 113.1 3.5 122.4 4.4 125.2C5.3 128 6.7 130.8 7.9 132.2C9.1 133.6 12 136.2 13.2 135.7C14.4 135.2 15.8 128.2 16.7 128.7C17.6 129.2 19.3 137.3 20.2 139.2C21.1 141.1 23.2 142.2 23.7 142.7" fill="none" stroke="#dc2f24" stroke-width="1.0" stroke-linejoin="round" />
<path d="M0 31.6C0.5 31.8 3.1 31.9 4 33C4.9 34.1 6.5 38.3 7 40C7.5 41.7 8 44.4 8 46C8 47.6 7.5 50.7 7 52C6.5 53.3 4.9 55.3 4 56C3.1 56.7 0.5 56.9 0 57" fill="none" stroke="#dc2f24" stroke-width="1.0" stroke-linejoin="round" />
<path d="M43 33C43.7 32.3 45.9 31.5 47 31.5C48.1 31.5 49.9 32.5 51 33C52.1 33.5 54.1 34.2 55 35C55.9 35.8 57.5 37.3 58 39C58.5 40.7 58.5 45.5 58.5 48C58.5 50.5 58.3 55.7 58 58C57.7 60.3 56.8 63.9 56 65C55.2 66.1 52.9 65.3 52 66C51.1 66.7 49.8 68.4 49 70C48.2 71.6 46.7 77.5 46 78C45.3 78.5 44.5 75.6 44 74C43.5 72.4 42.4 68.5 42 66C41.6 63.5 41.1 57.9 41 55C40.9 52.1 40.9 46.4 41 44C41.1 41.6 41.2 38.5 41.5 37C41.8 35.5 42.3 33.7 43 33Z" fill="none" stroke="#cf1b14" stroke-width="2.3" stroke-linejoin="round" />
</g>
<path d="M0 0v3.0M0 142v-3.0M5.8 0v1.6M5.8 142v-1.6M11.5 0v1.6M11.5 142v-1.6M17.2 0v1.6M17.2 142v-1.6M23 0v1.6M23 142v-1.6M28.8 0v3.0M28.8 142v-3.0M34.5 0v1.6M34.5 142v-1.6M40.2 0v1.6M40.2 142v-1.6M46 0v1.6M46 142v-1.6M51.8 0v1.6M51.8 142v-1.6M57.5 0v3.0M57.5 142v-3.0M63.2 0v1.6M63.2 142v-1.6M69 0v1.6M69 142v-1.6M74.8 0v1.6M74.8 142v-1.6M80.5 0v1.6M80.5 142v-1.6M86.2 0v3.0M86.2 142v-3.0M92 0v1.6M92 142v-1.6M97.8 0v1.6M97.8 142v-1.6M103.5 0v1.6M103.5 142v-1.6M109.2 0v1.6M109.2 142v-1.6M115 0v3.0M115 142v-3.0M0 0h3.0M115 0h-3.0M0 4.7h1.6M115 4.7h-1.6M0 9.5h1.6M115 9.5h-1.6M0 14.2h1.6M115 14.2h-1.6M0 18.9h1.6M115 18.9h-1.6M0 23.7h3.0M115 23.7h-3.0M0 28.4h1.6M115 28.4h-1.6M0 33.1h1.6M115 33.1h-1.6M0 37.9h1.6M115 37.9h-1.6M0 42.6h1.6M115 42.6h-1.6M0 47.3h3.0M115 47.3h-3.0M0 52.1h1.6M115 52.1h-1.6M0 56.8h1.6M115 56.8h-1.6M0 61.5h1.6M115 61.5h-1.6M0 66.3h1.6M115 66.3h-1.6M0 71h3.0M115 71h-3.0M0 75.7h1.6M115 75.7h-1.6M0 80.5h1.6M115 80.5h-1.6M0 85.2h1.6M115 85.2h-1.6M0 89.9h1.6M115 89.9h-1.6M0 94.7h3.0M115 94.7h-3.0M0 99.4h1.6M115 99.4h-1.6M0 104.1h1.6M115 104.1h-1.6M0 108.9h1.6M115 108.9h-1.6M0 113.6h1.6M115 113.6h-1.6M0 118.3h3.0M115 118.3h-3.0M0 123.1h1.6M115 123.1h-1.6M0 127.8h1.6M115 127.8h-1.6M0 132.5h1.6M115 132.5h-1.6M0 137.3h1.6M115 137.3h-1.6M0 142h3.0M115 142h-3.0" stroke="#262626" stroke-width="0.8" fill="none"/>
<rect width="115" height="142" fill="none" stroke="#262626" stroke-width="1"/>
</g>
<text x="73.7" y="309.7" font-size="18" text-anchor="start" font-weight="bold" >c</text>
<text x="108.1" y="314.2" font-size="14" text-anchor="start" font-weight="normal" >Group 2</text>
<text x="76.3" y="478.8" font-size="14" text-anchor="middle" font-weight="normal" >20</text>
<text x="105" y="478.8" font-size="14" text-anchor="middle" font-weight="normal" >30</text>
<text x="133.8" y="478.8" font-size="14" text-anchor="middle" font-weight="normal" >40</text>
<text x="162.6" y="478.8" font-size="14" text-anchor="middle" font-weight="normal" >50</text>
<text x="191.3" y="478.8" font-size="14" text-anchor="middle" font-weight="normal" >60</text>
<text x="133.8" y="499.6" font-size="14" text-anchor="middle" font-weight="normal" >Latitude</text>
<text x="209.1" y="309.7" font-size="18" text-anchor="start" font-weight="bold" >d</text>
<text x="241.9" y="314.2" font-size="14" text-anchor="start" font-weight="normal" >Group 1</text>
<text x="210.1" y="478.8" font-size="14" text-anchor="middle" font-weight="normal" >20</text>
<text x="238.9" y="478.8" font-size="14" text-anchor="middle" font-weight="normal" >30</text>
<text x="267.6" y="478.8" font-size="14" text-anchor="middle" font-weight="normal" >40</text>
<text x="296.4" y="478.8" font-size="14" text-anchor="middle" font-weight="normal" >50</text>
<text x="325.1" y="478.8" font-size="14" text-anchor="middle" font-weight="normal" >60</text>
<text x="267.6" y="499.6" font-size="14" text-anchor="middle" font-weight="normal" >Latitude</text>
<text x="424.8" y="309.7" font-size="18" text-anchor="start" font-weight="bold" >e</text>
<text x="459.2" y="314.2" font-size="14" text-anchor="start" font-weight="normal" >Group 1</text>
<text x="427.4" y="478.8" font-size="14" text-anchor="middle" font-weight="normal" >20</text>
<text x="456.2" y="478.8" font-size="14" text-anchor="middle" font-weight="normal" >30</text>
<text x="484.9" y="478.8" font-size="14" text-anchor="middle" font-weight="normal" >40</text>
<text x="513.7" y="478.8" font-size="14" text-anchor="middle" font-weight="normal" >50</text>
<text x="542.4" y="478.8" font-size="14" text-anchor="middle" font-weight="normal" >60</text>
<text x="484.9" y="499.6" font-size="14" text-anchor="middle" font-weight="normal" >Latitude</text>
<text x="560" y="309.7" font-size="18" text-anchor="start" font-weight="bold" >f</text>
<text x="593.1" y="314.2" font-size="14" text-anchor="start" font-weight="normal" >Group 2</text>
<text x="561.3" y="478.8" font-size="14" text-anchor="middle" font-weight="normal" >20</text>
<text x="590" y="478.8" font-size="14" text-anchor="middle" font-weight="normal" >30</text>
<text x="618.8" y="478.8" font-size="14" text-anchor="middle" font-weight="normal" >40</text>
<text x="647.5" y="478.8" font-size="14" text-anchor="middle" font-weight="normal" >50</text>
<text x="676.3" y="478.8" font-size="14" text-anchor="middle" font-weight="normal" >60</text>
<text x="618.8" y="499.6" font-size="14" text-anchor="middle" font-weight="normal" >Latitude</text>
<text x="70.7" y="332.6" font-size="14" text-anchor="end" font-weight="normal" >0.0</text>
<text x="70.7" y="351.4" font-size="14" text-anchor="end" font-weight="normal" >0.5</text>
<text x="70.7" y="374.7" font-size="14" text-anchor="end" font-weight="normal" >1.0</text>
<text x="70.7" y="398.3" font-size="14" text-anchor="end" font-weight="normal" >1.5</text>
<text x="70.7" y="422.5" font-size="14" text-anchor="end" font-weight="normal" >2.0</text>
<text x="70.7" y="445.8" font-size="14" text-anchor="end" font-weight="normal" >2.5</text>
<text x="70.7" y="464.3" font-size="14" text-anchor="end" font-weight="normal" >3.0</text>
<g transform="translate(40 392.5) rotate(-90)">
<text x="0" y="0" font-size="14" text-anchor="middle" font-weight="normal" >Depth (km)</text>
</g>
<text x="421.8" y="332.6" font-size="14" text-anchor="end" font-weight="normal" >0.0</text>
<text x="421.8" y="351.4" font-size="14" text-anchor="end" font-weight="normal" >0.5</text>
<text x="421.8" y="374.7" font-size="14" text-anchor="end" font-weight="normal" >1.0</text>
<text x="421.8" y="398.3" font-size="14" text-anchor="end" font-weight="normal" >1.5</text>
<text x="421.8" y="422.5" font-size="14" text-anchor="end" font-weight="normal" >2.0</text>
<text x="421.8" y="445.8" font-size="14" text-anchor="end" font-weight="normal" >2.5</text>
<text x="421.8" y="464.3" font-size="14" text-anchor="end" font-weight="normal" >3.0</text>
<g transform="translate(391.1 392.5) rotate(-90)">
<text x="0" y="0" font-size="14" text-anchor="middle" font-weight="normal" >Depth (km)</text>
</g>
<rect x="140.9" y="529.0" width="44.23" height="16.9" fill="#2e3cae"/>
<rect x="184.83" y="529.0" width="44.23" height="16.9" fill="#5a75c8"/>
<rect x="228.76" y="529.0" width="44.23" height="16.9" fill="#86aadc"/>
<rect x="272.69" y="529.0" width="44.23" height="16.9" fill="#abd7ef"/>
<rect x="316.62" y="529.0" width="44.23" height="16.9" fill="#f4f4f6"/>
<rect x="360.55" y="529.0" width="44.23" height="16.9" fill="#fefbdc"/>
<rect x="404.48" y="529.0" width="44.23" height="16.9" fill="#fedf78"/>
<rect x="448.41" y="529.0" width="44.23" height="16.9" fill="#fdac58"/>
<rect x="492.34" y="529.0" width="44.23" height="16.9" fill="#fb6d38"/>
<rect x="536.27" y="529.0" width="44.23" height="16.9" fill="#f63c20"/>
<rect x="140.9" y="529.0" width="439.3" height="16.9" fill="none" stroke="#333" stroke-width="0.8"/>
<text x="184.53" y="561.8" font-size="14" text-anchor="middle" font-weight="normal" >−0.8</text>
<text x="228.46" y="561.8" font-size="14" text-anchor="middle" font-weight="normal" >−0.6</text>
<text x="272.39" y="561.8" font-size="14" text-anchor="middle" font-weight="normal" >−0.4</text>
<text x="316.32" y="561.8" font-size="14" text-anchor="middle" font-weight="normal" >−0.2</text>
<text x="360.55" y="561.8" font-size="14" text-anchor="middle" font-weight="normal" >0</text>
<text x="404.48" y="561.8" font-size="14" text-anchor="middle" font-weight="normal" >0.2</text>
<text x="448.41" y="561.8" font-size="14" text-anchor="middle" font-weight="normal" >0.4</text>
<text x="492.34" y="561.8" font-size="14" text-anchor="middle" font-weight="normal" >0.6</text>
<text x="536.27" y="561.8" font-size="14" text-anchor="middle" font-weight="normal" >0.8</text>
<text x="360.7" y="523.4" font-size="14" text-anchor="middle" font-weight="normal" >Anomaly correlation coefficient</text>
</svg></body></html>
